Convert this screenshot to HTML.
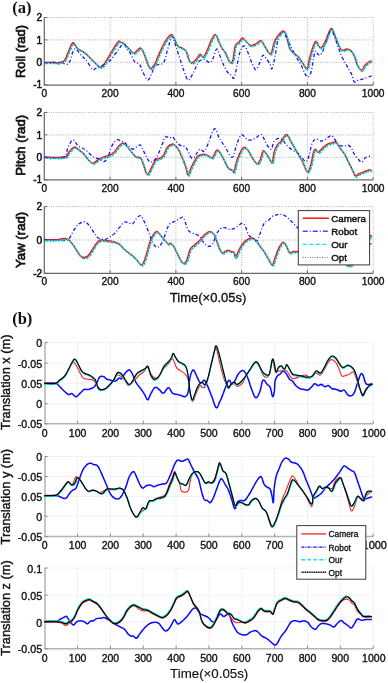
<!DOCTYPE html>
<html><head><meta charset="utf-8"><style>
html,body{margin:0;padding:0;background:#fff;}
body{width:388px;height:683px;overflow:hidden;}
svg{display:block;will-change:transform;}
</style></head><body>
<svg width="388" height="683" viewBox="0 0 388 683">
<rect width="388" height="683" fill="#fff"/>
<defs>
<clipPath id="c0"><rect x="44.3" y="14.5" width="329.9" height="70.5"/></clipPath>
<clipPath id="c1"><rect x="44.3" y="109.5" width="329.9" height="70.30000000000001"/></clipPath>
<clipPath id="c2"><rect x="44.3" y="203.6" width="329.9" height="69.70000000000002"/></clipPath>
<clipPath id="c3"><rect x="44.3" y="339.7" width="329.9" height="84.10000000000002"/></clipPath>
<clipPath id="c4"><rect x="44.3" y="453.5" width="329.9" height="83.10000000000002"/></clipPath>
<clipPath id="c5"><rect x="44.3" y="565.0" width="329.9" height="83.70000000000005"/></clipPath>
</defs>
<path d="M44.3,17.5H373.2 M44.3,39.9H373.2 M44.3,62.3H373.2 M110.1,17.5V85.0 M175.9,17.5V85.0 M241.6,17.5V85.0 M307.4,17.5V85.0 M373.2,17.5V85.0" stroke="#8a8a8a" stroke-width="0.8" stroke-dasharray="0.8,1.5" fill="none"/>
<path d="M44.3,17.5V85.0H373.2" stroke="#6a6a6a" stroke-width="1.25" fill="none"/>
<path d="M44.3,17.5h3 M44.3,39.9h3 M44.3,62.3h3 M44.3,84.7h3 M110.1,85.0v-3 M175.9,85.0v-3 M241.6,85.0v-3 M307.4,85.0v-3 M373.2,85.0v-3" stroke="#6a6a6a" stroke-width="1" fill="none"/>
<g clip-path="url(#c0)" fill="none" stroke-linejoin="round">
<path d="M44.0,62.4 C45.9,62.4 52.1,62.3 54.3,62.4 C56.5,62.5 55.3,63.0 56.4,63.0 C57.5,63.0 59.0,62.7 60.5,62.2 C62.0,61.7 63.2,62.3 64.6,60.4 C66.0,58.5 67.0,54.7 68.5,51.5 C70.0,48.3 71.4,43.4 72.9,42.8 C74.4,42.2 74.8,46.1 77.0,48.0 C79.2,49.9 82.2,50.7 85.2,53.1 C88.2,55.5 90.7,58.9 93.5,61.4 C96.3,63.9 98.5,67.2 100.7,67.2 C102.9,67.2 103.9,64.3 105.9,61.4 C107.9,58.5 109.8,54.6 112.0,51.1 C114.2,47.6 116.8,43.5 118.2,41.8 C119.6,40.1 118.9,41.4 120.0,41.8 C121.1,42.2 122.4,42.6 124.1,43.9 C125.8,45.2 127.6,47.3 129.3,49.0 C131.0,50.7 132.1,52.7 133.4,53.1 C134.7,53.5 135.2,52.0 136.5,51.1 C137.8,50.2 139.3,47.6 140.6,48.0 C141.9,48.4 142.6,50.7 143.7,53.1 C144.8,55.5 145.7,58.7 146.8,61.4 C147.9,64.1 148.6,67.5 149.9,68.2 C151.2,68.9 152.5,67.7 154.0,65.5 C155.5,63.3 156.6,59.5 158.1,56.2 C159.6,52.9 160.8,50.0 162.3,47.0 C163.8,44.0 164.7,41.9 166.4,39.7 C168.1,37.5 170.0,34.6 171.5,34.6 C173.0,34.6 173.5,37.7 174.6,39.7 C175.7,41.7 176.4,44.4 177.7,45.9 C179.0,47.4 180.4,47.1 181.9,48.0 C183.4,48.9 184.7,48.9 186.0,51.1 C187.3,53.3 188.0,58.3 189.1,60.4 C190.2,62.5 190.9,63.0 192.2,62.8 C193.5,62.6 194.9,60.8 196.3,59.3 C197.7,57.8 198.9,54.6 200.1,54.2 C201.3,53.8 201.9,58.0 203.2,57.3 C204.5,56.6 205.8,53.3 207.3,50.1 C208.8,46.9 210.0,42.5 211.5,39.7 C213.0,36.9 214.3,34.2 215.6,34.6 C216.9,35.0 217.6,39.4 218.7,41.8 C219.8,44.2 220.7,46.1 221.8,48.0 C222.9,49.9 223.4,49.5 224.9,52.1 C226.4,54.7 228.5,61.1 230.0,62.4 C231.5,63.7 232.2,62.3 233.1,59.3 C234.0,56.3 234.1,49.0 235.2,45.9 C236.3,42.8 238.0,43.2 239.3,41.8 C240.6,40.4 241.1,38.1 242.4,38.1 C243.7,38.1 245.0,40.5 246.5,41.8 C248.0,43.1 248.9,45.1 250.6,45.5 C252.3,45.9 253.9,44.7 255.8,43.9 C257.7,43.1 259.3,40.2 261.0,40.8 C262.7,41.4 263.8,45.0 265.1,47.0 C266.4,49.0 267.1,51.0 268.2,52.1 C269.3,53.2 270.2,55.0 271.3,53.1 C272.4,51.2 273.2,44.9 274.4,41.8 C275.6,38.6 276.6,37.5 278.2,35.6 C279.8,33.7 281.8,31.1 283.3,31.1 C284.8,31.1 285.3,32.6 286.4,35.6 C287.5,38.6 288.2,44.9 289.5,48.0 C290.8,51.1 292.1,51.6 293.6,53.1 C295.1,54.6 296.1,54.3 297.8,56.2 C299.5,58.1 301.2,61.3 302.9,63.5 C304.6,65.7 305.8,69.9 307.1,68.6 C308.4,67.3 308.6,61.1 310.1,56.2 C311.6,51.3 313.8,43.4 315.3,41.6 C316.8,39.8 317.3,44.9 318.4,46.0 C319.5,47.1 320.2,48.4 321.5,47.5 C322.8,46.6 323.9,44.2 325.6,40.8 C327.3,37.4 329.3,29.6 331.0,28.7 C332.7,27.8 333.4,32.5 334.8,35.6 C336.2,38.7 337.6,43.4 338.9,46.0 C340.2,48.6 340.5,49.6 342.0,50.1 C343.5,50.6 345.5,48.8 347.2,49.0 C348.9,49.2 350.0,49.8 351.3,51.1 C352.6,52.4 353.3,53.6 354.4,56.2 C355.5,58.8 356.2,63.0 357.5,65.5 C358.8,68.0 360.3,70.3 361.6,70.3 C362.9,70.3 363.4,67.0 364.7,65.5 C366.0,64.0 367.6,62.8 368.8,62.0 C370.0,61.2 371.0,61.0 371.5,60.8" stroke="#ff1010" stroke-width="1.5"/>
<path d="M44.0,62.6 C46.9,62.6 56.3,62.4 60.0,62.6 C63.7,62.8 63.2,63.5 64.6,63.8 C66.0,64.1 66.7,64.7 67.7,64.2 C68.7,63.7 68.8,63.7 70.0,61.0 C71.2,58.3 72.5,50.0 74.5,49.0 C76.5,48.0 79.2,53.3 81.1,55.2 C83.0,57.1 83.1,56.8 85.2,59.3 C87.3,61.8 90.6,67.3 92.5,69.0 C94.4,70.7 94.2,69.0 95.5,68.5 C96.8,68.0 97.8,67.4 99.7,66.5 C101.6,65.6 104.0,64.5 105.9,63.5 C107.8,62.5 108.3,62.5 110.0,60.8 C111.7,59.1 113.2,56.7 115.1,54.2 C117.0,51.7 118.7,49.1 120.3,47.0 C121.9,44.9 122.9,42.6 124.0,42.8 C125.1,43.0 125.1,46.1 126.2,48.0 C127.3,49.9 128.8,50.7 130.3,53.1 C131.8,55.5 132.7,59.3 134.4,61.4 C136.1,63.5 138.1,62.6 139.6,64.5 C141.1,66.4 141.2,68.9 142.7,71.7 C144.2,74.5 146.1,79.8 147.8,80.0 C149.5,80.2 150.7,75.3 152.0,72.7 C153.3,70.1 153.1,67.3 155.1,65.5 C157.1,63.7 161.1,65.6 163.3,62.8 C165.5,60.0 166.1,54.3 167.4,50.1 C168.7,45.9 169.6,42.1 170.5,39.7 C171.4,37.3 171.7,35.5 172.6,36.6 C173.5,37.7 174.4,42.0 175.7,45.9 C177.0,49.8 178.3,53.8 179.8,58.3 C181.3,62.8 182.4,66.8 183.9,70.7 C185.4,74.6 186.5,79.3 188.0,80.0 C189.5,80.7 190.7,77.2 192.2,74.8 C193.7,72.4 195.1,68.9 196.3,66.5 C197.5,64.1 197.7,62.7 199.1,61.4 C200.5,60.1 202.7,59.3 204.2,59.3 C205.7,59.3 206.2,60.8 207.3,61.4 C208.4,62.0 209.3,63.1 210.4,62.4 C211.5,61.7 212.4,59.7 213.5,57.3 C214.6,54.9 215.5,49.4 216.6,49.0 C217.7,48.6 218.4,52.2 219.7,55.2 C221.0,58.2 222.3,62.4 223.8,65.5 C225.3,68.7 226.7,71.0 228.0,72.7 C229.3,74.4 230.0,74.3 231.1,75.2 C232.2,76.1 233.0,79.8 234.1,77.9 C235.2,76.0 236.1,69.3 237.2,64.5 C238.3,59.7 239.0,54.4 240.3,51.1 C241.6,47.8 243.0,45.3 244.5,45.9 C246.0,46.5 247.3,51.2 248.6,54.2 C249.9,57.2 250.4,59.6 251.7,62.4 C253.0,65.2 254.3,69.6 255.8,69.6 C257.3,69.6 258.6,65.0 259.9,62.4 C261.2,59.8 261.9,55.9 263.0,55.2 C264.1,54.5 264.8,56.6 266.1,58.3 C267.4,60.0 269.1,62.6 270.2,64.5 C271.3,66.4 271.1,70.1 272.0,68.6 C272.9,67.1 274.0,61.4 275.1,56.2 C276.2,51.0 276.7,44.0 278.2,39.7 C279.7,35.4 281.8,32.9 283.3,32.5 C284.8,32.1 285.1,35.3 286.4,37.7 C287.7,40.1 288.9,42.6 290.6,45.9 C292.3,49.2 293.8,52.9 295.7,56.2 C297.6,59.5 299.2,61.3 300.9,64.5 C302.6,67.7 303.7,71.6 305.0,73.8 C306.3,76.0 307.0,77.3 308.1,76.9 C309.2,76.5 310.3,74.7 311.2,71.7 C312.1,68.7 312.5,64.1 313.2,60.4 C313.9,56.7 314.4,52.1 315.3,51.1 C316.2,50.1 317.3,54.2 318.4,54.7 C319.5,55.2 320.2,55.5 321.5,53.6 C322.8,51.7 323.9,48.1 325.6,43.9 C327.3,39.7 329.1,31.3 330.8,30.2 C332.5,29.1 333.3,34.3 334.8,37.7 C336.3,41.1 337.6,45.5 338.9,49.0 C340.2,52.5 340.8,54.5 342.1,57.3 C343.4,60.1 344.9,62.2 346.2,64.5 C347.5,66.8 348.3,68.3 349.3,70.2 C350.3,72.1 351.1,72.9 352.0,75.0 C352.9,77.1 353.2,81.1 354.4,82.0 C355.6,82.9 356.8,80.6 358.5,80.0 C360.2,79.4 361.4,79.7 363.7,78.9 C366.0,78.1 370.1,76.4 371.5,75.8" stroke="#1515ff" stroke-width="1.3" stroke-dasharray="3.5,2.1,1,2.1"/>
<path d="M44.9,63.5 C46.8,63.5 53.0,63.4 55.2,63.5 C57.4,63.6 56.2,64.1 57.3,64.1 C58.4,64.1 59.9,63.8 61.4,63.3 C62.9,62.8 64.1,63.4 65.5,61.5 C66.9,59.6 67.9,55.8 69.4,52.6 C70.9,49.4 72.3,44.5 73.8,43.9 C75.3,43.3 75.7,47.2 77.9,49.1 C80.1,51.0 83.1,51.8 86.1,54.2 C89.1,56.6 91.6,60.0 94.4,62.5 C97.2,65.0 99.4,68.3 101.6,68.3 C103.8,68.3 104.8,65.4 106.8,62.5 C108.8,59.6 110.7,55.7 112.9,52.2 C115.1,48.7 117.7,44.6 119.1,42.9 C120.5,41.2 119.8,42.5 120.9,42.9 C122.0,43.3 123.3,43.7 125.0,45.0 C126.7,46.3 128.5,48.4 130.2,50.1 C131.9,51.8 133.0,53.8 134.3,54.2 C135.6,54.6 136.1,53.1 137.4,52.2 C138.7,51.3 140.2,48.7 141.5,49.1 C142.8,49.5 143.5,51.8 144.6,54.2 C145.7,56.6 146.6,59.8 147.7,62.5 C148.8,65.2 149.5,68.6 150.8,69.3 C152.1,70.0 153.4,68.8 154.9,66.6 C156.4,64.4 157.5,60.6 159.0,57.3 C160.5,54.0 161.7,51.1 163.2,48.1 C164.7,45.1 165.6,43.0 167.3,40.8 C169.0,38.6 170.9,35.7 172.4,35.7 C173.9,35.7 174.4,38.8 175.5,40.8 C176.6,42.8 177.3,45.5 178.6,47.0 C179.9,48.5 181.3,48.2 182.8,49.1 C184.3,50.0 185.6,50.0 186.9,52.2 C188.2,54.4 188.9,59.4 190.0,61.5 C191.1,63.6 191.8,64.1 193.1,63.9 C194.4,63.7 195.8,61.9 197.2,60.4 C198.6,58.9 199.8,55.7 201.0,55.3 C202.2,54.9 202.8,59.1 204.1,58.4 C205.4,57.7 206.7,54.4 208.2,51.2 C209.7,48.0 210.9,43.6 212.4,40.8 C213.9,38.0 215.2,35.3 216.5,35.7 C217.8,36.1 218.5,40.5 219.6,42.9 C220.7,45.3 221.6,47.2 222.7,49.1 C223.8,51.0 224.3,50.6 225.8,53.2 C227.3,55.8 229.4,62.2 230.9,63.5 C232.4,64.8 233.1,63.4 234.0,60.4 C234.9,57.4 235.0,50.1 236.1,47.0 C237.2,43.9 238.9,44.3 240.2,42.9 C241.5,41.5 242.0,39.2 243.3,39.2 C244.6,39.2 245.9,41.6 247.4,42.9 C248.9,44.2 249.8,46.2 251.5,46.6 C253.2,47.0 254.8,45.8 256.7,45.0 C258.6,44.2 260.2,41.3 261.9,41.9 C263.6,42.5 264.7,46.1 266.0,48.1 C267.3,50.1 268.0,52.1 269.1,53.2 C270.2,54.3 271.1,56.1 272.2,54.2 C273.3,52.3 274.1,46.0 275.3,42.9 C276.5,39.8 277.5,38.6 279.1,36.7 C280.7,34.8 282.7,32.2 284.2,32.2 C285.7,32.2 286.2,33.7 287.3,36.7 C288.4,39.7 289.1,46.0 290.4,49.1 C291.7,52.2 293.0,52.7 294.5,54.2 C296.0,55.7 297.0,55.4 298.7,57.3 C300.4,59.2 302.1,62.4 303.8,64.6 C305.5,66.8 306.7,71.0 308.0,69.7 C309.3,68.4 309.5,62.2 311.0,57.3 C312.5,52.4 314.7,44.5 316.2,42.7 C317.7,40.9 318.2,46.0 319.3,47.1 C320.4,48.2 321.1,49.5 322.4,48.6 C323.7,47.7 324.8,45.3 326.5,41.9 C328.2,38.5 330.2,30.7 331.9,29.8 C333.6,28.9 334.3,33.6 335.7,36.7 C337.1,39.8 338.5,44.5 339.8,47.1 C341.1,49.7 341.4,50.7 342.9,51.2 C344.4,51.7 346.4,49.9 348.1,50.1 C349.8,50.3 350.9,50.9 352.2,52.2 C353.5,53.5 354.2,54.7 355.3,57.3 C356.4,59.9 357.1,64.1 358.4,66.6 C359.7,69.1 361.2,71.4 362.5,71.4 C363.8,71.4 364.3,68.1 365.6,66.6 C366.9,65.1 368.5,63.9 369.7,63.1 C370.9,62.3 371.9,62.1 372.4,61.9" stroke="#00e8e8" stroke-width="1.6" stroke-dasharray="3,1.2"/>
<path d="M44.8,63.4 C46.7,63.4 52.9,63.3 55.1,63.4 C57.3,63.5 56.1,64.0 57.2,64.0 C58.3,64.0 59.8,63.7 61.3,63.2 C62.8,62.7 64.0,63.3 65.4,61.4 C66.8,59.5 67.8,55.7 69.3,52.5 C70.8,49.3 72.2,44.4 73.7,43.8 C75.2,43.2 75.6,47.1 77.8,49.0 C80.0,50.9 83.0,51.7 86.0,54.1 C89.0,56.5 91.5,59.9 94.3,62.4 C97.1,64.9 99.3,68.2 101.5,68.2 C103.7,68.2 104.7,65.3 106.7,62.4 C108.7,59.5 110.6,55.6 112.8,52.1 C115.0,48.6 117.6,44.5 119.0,42.8 C120.4,41.1 119.7,42.4 120.8,42.8 C121.9,43.2 123.2,43.6 124.9,44.9 C126.6,46.2 128.4,48.3 130.1,50.0 C131.8,51.7 132.9,53.7 134.2,54.1 C135.5,54.5 136.0,53.0 137.3,52.1 C138.6,51.2 140.1,48.6 141.4,49.0 C142.7,49.4 143.4,51.7 144.5,54.1 C145.6,56.5 146.5,59.7 147.6,62.4 C148.7,65.1 149.4,68.5 150.7,69.2 C152.0,69.9 153.3,68.7 154.8,66.5 C156.3,64.3 157.4,60.5 158.9,57.2 C160.4,53.9 161.6,51.0 163.1,48.0 C164.6,45.0 165.5,42.9 167.2,40.7 C168.9,38.5 170.8,35.6 172.3,35.6 C173.8,35.6 174.3,38.7 175.4,40.7 C176.5,42.7 177.2,45.4 178.5,46.9 C179.8,48.4 181.2,48.1 182.7,49.0 C184.2,49.9 185.5,49.9 186.8,52.1 C188.1,54.3 188.8,59.3 189.9,61.4 C191.0,63.5 191.7,64.0 193.0,63.8 C194.3,63.6 195.7,61.8 197.1,60.3 C198.5,58.8 199.7,55.6 200.9,55.2 C202.1,54.8 202.7,59.0 204.0,58.3 C205.3,57.6 206.6,54.3 208.1,51.1 C209.6,47.9 210.8,43.5 212.3,40.7 C213.8,37.9 215.1,35.2 216.4,35.6 C217.7,36.0 218.4,40.4 219.5,42.8 C220.6,45.2 221.5,47.1 222.6,49.0 C223.7,50.9 224.2,50.5 225.7,53.1 C227.2,55.7 229.3,62.1 230.8,63.4 C232.3,64.7 233.0,63.3 233.9,60.3 C234.8,57.3 234.9,50.0 236.0,46.9 C237.1,43.8 238.8,44.2 240.1,42.8 C241.4,41.4 241.9,39.1 243.2,39.1 C244.5,39.1 245.8,41.5 247.3,42.8 C248.8,44.1 249.7,46.1 251.4,46.5 C253.1,46.9 254.7,45.7 256.6,44.9 C258.5,44.1 260.1,41.2 261.8,41.8 C263.5,42.4 264.6,46.0 265.9,48.0 C267.2,50.0 267.9,52.0 269.0,53.1 C270.1,54.2 271.0,56.0 272.1,54.1 C273.2,52.2 274.0,45.9 275.2,42.8 C276.4,39.6 277.4,38.5 279.0,36.6 C280.6,34.7 282.6,32.1 284.1,32.1 C285.6,32.1 286.1,33.6 287.2,36.6 C288.3,39.6 289.0,45.9 290.3,49.0 C291.6,52.1 292.9,52.6 294.4,54.1 C295.9,55.6 296.9,55.3 298.6,57.2 C300.3,59.1 302.0,62.3 303.7,64.5 C305.4,66.7 306.6,70.9 307.9,69.6 C309.2,68.3 309.4,62.1 310.9,57.2 C312.4,52.3 314.6,44.4 316.1,42.6 C317.6,40.8 318.1,45.9 319.2,47.0 C320.3,48.1 321.0,49.4 322.3,48.5 C323.6,47.6 324.7,45.2 326.4,41.8 C328.1,38.4 330.1,30.6 331.8,29.7 C333.5,28.8 334.2,33.5 335.6,36.6 C337.0,39.7 338.4,44.4 339.7,47.0 C341.0,49.6 341.3,50.6 342.8,51.1 C344.3,51.6 346.3,49.8 348.0,50.0 C349.7,50.2 350.8,50.8 352.1,52.1 C353.4,53.4 354.1,54.6 355.2,57.2 C356.3,59.8 357.0,64.0 358.3,66.5 C359.6,69.0 361.1,71.3 362.4,71.3 C363.7,71.3 364.2,68.0 365.5,66.5 C366.8,65.0 368.4,63.8 369.6,63.0 C370.8,62.2 371.8,62.0 372.3,61.8" stroke="#222" stroke-width="0.8" stroke-dasharray="0.7,2"/>
</g>
<text x="42.2" y="21.1" text-anchor="end" font-family='"Liberation Sans", sans-serif' font-size="10.2" fill="#111" stroke="#111" stroke-width="0.5">2</text>
<text x="42.2" y="43.5" text-anchor="end" font-family='"Liberation Sans", sans-serif' font-size="10.2" fill="#111" stroke="#111" stroke-width="0.5">1</text>
<text x="42.2" y="65.9" text-anchor="end" font-family='"Liberation Sans", sans-serif' font-size="10.2" fill="#111" stroke="#111" stroke-width="0.5">0</text>
<text x="42.2" y="88.3" text-anchor="end" font-family='"Liberation Sans", sans-serif' font-size="10.2" fill="#111" stroke="#111" stroke-width="0.5">-1</text>
<text x="44.3" y="97.0" text-anchor="middle" font-family='"Liberation Sans", sans-serif' font-size="10.2" fill="#111" stroke="#111" stroke-width="0.35">0</text>
<text x="110.1" y="97.0" text-anchor="middle" font-family='"Liberation Sans", sans-serif' font-size="10.2" fill="#111" stroke="#111" stroke-width="0.35">200</text>
<text x="175.9" y="97.0" text-anchor="middle" font-family='"Liberation Sans", sans-serif' font-size="10.2" fill="#111" stroke="#111" stroke-width="0.35">400</text>
<text x="241.6" y="97.0" text-anchor="middle" font-family='"Liberation Sans", sans-serif' font-size="10.2" fill="#111" stroke="#111" stroke-width="0.35">600</text>
<text x="307.4" y="97.0" text-anchor="middle" font-family='"Liberation Sans", sans-serif' font-size="10.2" fill="#111" stroke="#111" stroke-width="0.35">800</text>
<text x="373.2" y="97.0" text-anchor="middle" font-family='"Liberation Sans", sans-serif' font-size="10.2" fill="#111" stroke="#111" stroke-width="0.35">1000</text>
<text transform="translate(25.2,51.5) rotate(-90)" text-anchor="middle" font-family='"Liberation Sans", sans-serif' font-size="12.9" fill="#111" stroke="#111" stroke-width="0.7">Roll (rad)</text>
<path d="M44.3,112.5H373.2 M44.3,134.9H373.2 M44.3,157.3H373.2 M110.1,112.5V179.8 M175.9,112.5V179.8 M241.6,112.5V179.8 M307.4,112.5V179.8 M373.2,112.5V179.8" stroke="#8a8a8a" stroke-width="0.8" stroke-dasharray="0.8,1.5" fill="none"/>
<path d="M44.3,112.5V179.8H373.2" stroke="#6a6a6a" stroke-width="1.25" fill="none"/>
<path d="M44.3,112.5h3 M44.3,134.9h3 M44.3,157.3h3 M44.3,179.8h3 M110.1,179.8v-3 M175.9,179.8v-3 M241.6,179.8v-3 M307.4,179.8v-3 M373.2,179.8v-3" stroke="#6a6a6a" stroke-width="1" fill="none"/>
<g clip-path="url(#c1)" fill="none" stroke-linejoin="round">
<path d="M44.0,157.1 C47.7,157.1 60.2,158.0 64.6,157.1 C69.0,156.2 67.0,154.1 68.7,152.3 C70.4,150.5 72.2,147.8 73.9,147.2 C75.6,146.6 76.3,148.1 78.0,149.2 C79.7,150.3 81.5,151.7 83.2,153.4 C84.9,155.1 85.8,156.8 87.3,158.5 C88.8,160.2 90.1,161.9 91.4,162.6 C92.7,163.3 93.2,163.2 94.5,162.6 C95.8,162.0 96.9,160.5 98.6,159.5 C100.3,158.5 101.9,157.6 103.8,156.9 C105.7,156.2 107.1,156.2 109.0,155.4 C110.9,154.6 112.2,154.1 114.1,152.3 C116.0,150.5 117.5,147.1 119.3,145.5 C121.1,143.9 122.2,142.8 124.0,143.5 C125.8,144.2 127.6,147.2 129.3,149.2 C131.0,151.2 132.1,153.0 133.4,154.4 C134.7,155.8 135.2,156.5 136.5,157.1 C137.8,157.7 139.3,156.4 140.6,157.9 C141.9,159.4 142.5,162.7 143.7,165.7 C144.9,168.7 145.9,173.8 147.2,174.4 C148.5,175.0 149.5,171.3 150.9,168.8 C152.3,166.3 153.6,162.5 155.1,160.6 C156.6,158.7 157.7,159.4 159.2,158.5 C160.7,157.6 161.8,157.8 163.3,155.8 C164.8,153.8 165.7,149.3 167.4,147.2 C169.1,145.1 171.1,144.3 172.6,144.1 C174.1,143.9 174.6,145.0 175.7,146.1 C176.8,147.2 177.5,147.9 178.8,150.3 C180.1,152.7 181.6,156.3 182.9,159.5 C184.2,162.7 185.1,165.0 186.0,167.8 C186.9,170.6 187.1,175.0 188.0,175.0 C188.9,175.0 190.0,170.2 191.1,167.8 C192.2,165.4 193.1,163.6 194.2,161.6 C195.3,159.6 196.2,157.7 197.3,156.5 C198.4,155.3 198.7,155.4 200.1,155.0 C201.5,154.6 203.6,154.1 205.3,154.4 C207.0,154.7 208.1,155.9 209.4,156.5 C210.7,157.1 211.2,158.6 212.5,157.5 C213.8,156.4 215.3,151.2 216.6,150.3 C217.9,149.4 218.4,150.6 219.7,152.3 C221.0,154.0 222.3,156.7 223.8,159.5 C225.3,162.3 226.5,165.9 228.0,167.8 C229.5,169.7 231.0,169.2 232.1,169.9 C233.2,170.6 233.2,173.4 234.1,171.5 C235.0,169.6 235.9,163.3 237.2,159.5 C238.5,155.7 240.1,152.5 241.4,150.3 C242.7,148.1 243.2,147.0 244.5,147.2 C245.8,147.4 247.1,149.3 248.6,151.3 C250.1,153.3 251.2,156.3 252.7,158.5 C254.2,160.7 255.5,163.3 256.8,163.7 C258.1,164.1 258.8,162.8 259.9,160.6 C261.0,158.4 261.9,152.6 263.0,151.3 C264.1,150.0 265.0,152.1 266.1,153.4 C267.2,154.7 268.1,156.8 269.2,158.5 C270.3,160.2 271.4,163.7 272.3,162.6 C273.2,161.5 273.2,155.5 274.1,152.3 C275.0,149.2 275.9,147.1 277.2,145.1 C278.5,143.1 279.6,142.9 281.3,141.0 C283.0,139.1 284.7,134.4 286.4,134.4 C288.1,134.4 289.1,138.5 290.6,141.0 C292.1,143.5 293.2,145.6 294.7,148.2 C296.2,150.8 297.3,152.8 298.8,155.4 C300.3,158.0 301.3,159.6 302.9,162.6 C304.5,165.6 306.0,171.7 307.5,171.9 C309.0,172.1 310.1,167.0 311.1,163.7 C312.1,160.4 312.5,156.0 313.2,153.4 C313.9,150.8 314.3,149.4 315.2,149.2 C316.1,149.0 317.0,152.5 318.3,152.3 C319.6,152.1 320.7,149.7 322.4,148.2 C324.1,146.7 325.9,145.0 327.6,144.1 C329.3,143.2 330.2,143.4 331.7,143.0 C333.2,142.6 334.3,141.1 335.8,142.0 C337.3,142.9 338.5,146.1 340.0,148.2 C341.5,150.3 342.6,151.0 344.1,153.4 C345.6,155.8 346.7,158.6 348.2,161.6 C349.7,164.6 351.0,167.3 352.3,169.9 C353.6,172.5 354.3,175.3 355.4,176.0 C356.5,176.7 357.0,174.7 358.5,174.0 C360.0,173.3 361.8,172.6 363.7,171.9 C365.6,171.2 367.4,170.2 368.8,169.9 C370.2,169.6 371.0,170.2 371.5,170.3" stroke="#ff1010" stroke-width="1.5"/>
<path d="M44.0,157.1 C47.5,157.1 59.2,158.8 63.5,157.1 C67.8,155.4 66.3,150.6 68.0,147.5 C69.7,144.4 71.1,140.1 72.9,139.8 C74.7,139.5 75.8,143.8 78.0,145.6 C80.2,147.4 82.4,147.6 85.2,149.7 C88.0,151.8 90.9,155.3 93.5,157.0 C96.1,158.7 97.8,158.2 99.7,159.0 C101.6,159.8 102.3,162.1 103.8,161.7 C105.3,161.3 106.4,159.9 107.9,157.0 C109.4,154.1 110.3,148.7 112.0,145.6 C113.7,142.5 115.5,140.5 117.2,139.8 C118.9,139.1 120.1,141.1 121.3,141.5 C122.5,141.9 122.9,141.2 124.1,142.0 C125.3,142.8 126.5,144.8 128.2,146.1 C129.9,147.4 131.7,149.2 133.4,149.2 C135.1,149.2 136.2,146.8 137.5,146.1 C138.8,145.4 139.5,144.2 140.6,145.1 C141.7,146.0 142.6,149.1 143.7,151.3 C144.8,153.5 145.7,155.6 146.8,157.5 C147.9,159.4 148.6,161.4 149.9,162.0 C151.2,162.6 152.5,162.0 154.0,160.6 C155.5,159.2 156.6,157.4 158.1,154.4 C159.6,151.4 161.0,147.2 162.3,144.1 C163.6,140.9 164.1,138.0 165.4,136.9 C166.7,135.8 168.2,137.9 169.5,137.9 C170.8,137.9 171.5,136.3 172.6,136.9 C173.7,137.5 174.4,139.5 175.7,141.0 C177.0,142.5 178.3,144.2 179.8,145.1 C181.3,146.0 182.6,145.4 183.9,146.1 C185.2,146.8 185.7,147.1 187.0,149.2 C188.3,151.3 189.8,156.1 191.1,157.5 C192.4,158.9 193.1,158.0 194.2,157.1 C195.3,156.2 196.2,153.7 197.3,152.3 C198.4,150.9 198.9,149.4 200.1,149.2 C201.3,149.0 202.7,152.4 204.2,151.3 C205.7,150.2 206.9,146.5 208.4,143.0 C209.9,139.5 211.2,134.2 212.5,131.7 C213.8,129.2 214.5,128.1 215.6,129.0 C216.7,129.9 217.6,134.6 218.7,136.9 C219.8,139.2 220.5,140.0 221.8,142.0 C223.1,144.0 224.4,145.8 225.9,148.2 C227.4,150.6 228.7,153.9 230.0,155.4 C231.3,156.9 232.0,158.2 233.1,156.5 C234.2,154.8 235.1,149.4 236.2,146.1 C237.3,142.8 238.2,139.9 239.3,137.9 C240.4,135.9 241.1,134.6 242.4,134.8 C243.7,135.0 245.0,138.0 246.5,138.9 C248.0,139.8 248.9,140.2 250.6,140.0 C252.3,139.8 253.9,138.9 255.8,137.9 C257.7,136.9 259.5,134.2 261.0,134.4 C262.5,134.6 262.9,137.0 264.0,138.9 C265.1,140.8 265.8,143.2 267.1,145.1 C268.4,147.0 270.2,149.6 271.3,149.2 C272.4,148.8 272.5,144.7 273.3,143.0 C274.1,141.3 274.8,140.3 276.0,139.5 C277.2,138.7 278.9,138.2 280.2,138.5 C281.5,138.8 282.0,139.6 283.3,141.0 C284.6,142.4 285.8,144.4 287.5,146.1 C289.2,147.8 290.9,149.2 292.6,150.3 C294.3,151.4 295.2,151.2 296.7,152.3 C298.2,153.4 299.2,154.8 300.9,156.5 C302.6,158.2 304.5,161.8 306.0,161.6 C307.5,161.4 308.0,158.7 309.1,155.4 C310.2,152.1 310.9,145.9 312.2,143.0 C313.5,140.1 314.8,139.5 316.3,139.1 C317.8,138.7 319.0,140.8 320.5,141.0 C322.0,141.2 323.1,140.7 324.6,140.0 C326.1,139.3 327.4,137.7 328.7,136.9 C330.0,136.1 330.6,135.0 331.8,135.6 C333.0,136.2 334.0,138.3 335.3,140.0 C336.6,141.7 337.4,144.0 339.0,145.1 C340.6,146.2 342.5,146.1 344.2,146.1 C345.9,146.1 346.9,144.5 348.3,145.1 C349.7,145.7 350.9,147.5 352.0,149.2 C353.1,150.9 353.2,152.5 354.4,154.4 C355.6,156.3 357.1,158.1 358.5,159.5 C359.9,160.9 360.7,162.4 362.0,162.0 C363.3,161.6 364.0,158.6 365.7,157.5 C367.4,156.4 370.5,156.1 371.5,155.8" stroke="#1515ff" stroke-width="1.3" stroke-dasharray="3.5,2.1,1,2.1"/>
<path d="M44.9,158.2 C48.6,158.2 61.1,159.1 65.5,158.2 C69.9,157.3 67.9,155.2 69.6,153.4 C71.3,151.6 73.1,148.9 74.8,148.3 C76.5,147.7 77.2,149.2 78.9,150.3 C80.6,151.4 82.4,152.8 84.1,154.5 C85.8,156.2 86.7,157.9 88.2,159.6 C89.7,161.3 91.0,163.0 92.3,163.7 C93.6,164.4 94.1,164.3 95.4,163.7 C96.7,163.1 97.8,161.6 99.5,160.6 C101.2,159.6 102.8,158.7 104.7,158.0 C106.6,157.3 108.0,157.3 109.9,156.5 C111.8,155.7 113.1,155.2 115.0,153.4 C116.9,151.6 118.4,148.2 120.2,146.6 C122.0,145.0 123.1,143.9 124.9,144.6 C126.7,145.3 128.5,148.3 130.2,150.3 C131.9,152.3 133.0,154.1 134.3,155.5 C135.6,156.9 136.1,157.6 137.4,158.2 C138.7,158.8 140.2,157.5 141.5,159.0 C142.8,160.5 143.4,163.8 144.6,166.8 C145.8,169.8 146.8,174.9 148.1,175.5 C149.4,176.1 150.4,172.4 151.8,169.9 C153.2,167.4 154.5,163.6 156.0,161.7 C157.5,159.8 158.6,160.5 160.1,159.6 C161.6,158.7 162.7,158.9 164.2,156.9 C165.7,154.9 166.6,150.4 168.3,148.3 C170.0,146.2 172.0,145.4 173.5,145.2 C175.0,145.0 175.5,146.1 176.6,147.2 C177.7,148.3 178.4,149.0 179.7,151.4 C181.0,153.8 182.5,157.4 183.8,160.6 C185.1,163.8 186.0,166.1 186.9,168.9 C187.8,171.7 188.0,176.1 188.9,176.1 C189.8,176.1 190.9,171.3 192.0,168.9 C193.1,166.5 194.0,164.7 195.1,162.7 C196.2,160.7 197.1,158.8 198.2,157.6 C199.3,156.4 199.6,156.5 201.0,156.1 C202.4,155.7 204.5,155.2 206.2,155.5 C207.9,155.8 209.0,157.0 210.3,157.6 C211.6,158.2 212.1,159.7 213.4,158.6 C214.7,157.5 216.2,152.3 217.5,151.4 C218.8,150.5 219.3,151.7 220.6,153.4 C221.9,155.1 223.2,157.8 224.7,160.6 C226.2,163.4 227.4,167.0 228.9,168.9 C230.4,170.8 231.9,170.3 233.0,171.0 C234.1,171.7 234.1,174.5 235.0,172.6 C235.9,170.7 236.8,164.4 238.1,160.6 C239.4,156.8 241.0,153.6 242.3,151.4 C243.6,149.2 244.1,148.1 245.4,148.3 C246.7,148.5 248.0,150.4 249.5,152.4 C251.0,154.4 252.1,157.4 253.6,159.6 C255.1,161.8 256.4,164.4 257.7,164.8 C259.0,165.2 259.7,163.9 260.8,161.7 C261.9,159.5 262.8,153.7 263.9,152.4 C265.0,151.1 265.9,153.2 267.0,154.5 C268.1,155.8 269.0,157.9 270.1,159.6 C271.2,161.3 272.3,164.8 273.2,163.7 C274.1,162.6 274.1,156.6 275.0,153.4 C275.9,150.2 276.8,148.2 278.1,146.2 C279.4,144.2 280.5,144.0 282.2,142.1 C283.9,140.2 285.6,135.5 287.3,135.5 C289.0,135.5 290.0,139.6 291.5,142.1 C293.0,144.6 294.1,146.7 295.6,149.3 C297.1,151.9 298.2,153.9 299.7,156.5 C301.2,159.1 302.2,160.7 303.8,163.7 C305.4,166.7 306.9,172.8 308.4,173.0 C309.9,173.2 311.0,168.1 312.0,164.8 C313.0,161.5 313.4,157.1 314.1,154.5 C314.8,151.9 315.2,150.5 316.1,150.3 C317.0,150.1 317.9,153.6 319.2,153.4 C320.5,153.2 321.6,150.8 323.3,149.3 C325.0,147.8 326.8,146.1 328.5,145.2 C330.2,144.3 331.1,144.5 332.6,144.1 C334.1,143.7 335.2,142.2 336.7,143.1 C338.2,144.0 339.4,147.2 340.9,149.3 C342.4,151.4 343.5,152.1 345.0,154.5 C346.5,156.9 347.6,159.7 349.1,162.7 C350.6,165.7 351.9,168.4 353.2,171.0 C354.5,173.6 355.2,176.4 356.3,177.1 C357.4,177.8 357.9,175.8 359.4,175.1 C360.9,174.4 362.7,173.7 364.6,173.0 C366.5,172.3 368.3,171.3 369.7,171.0 C371.1,170.7 371.9,171.3 372.4,171.4" stroke="#00e8e8" stroke-width="1.6" stroke-dasharray="3,1.2"/>
<path d="M44.8,158.1 C48.5,158.1 61.0,159.0 65.4,158.1 C69.8,157.2 67.8,155.1 69.5,153.3 C71.2,151.5 73.0,148.8 74.7,148.2 C76.4,147.6 77.1,149.1 78.8,150.2 C80.5,151.3 82.3,152.7 84.0,154.4 C85.7,156.1 86.6,157.8 88.1,159.5 C89.6,161.2 90.9,162.9 92.2,163.6 C93.5,164.3 94.0,164.2 95.3,163.6 C96.6,163.0 97.7,161.5 99.4,160.5 C101.1,159.5 102.7,158.6 104.6,157.9 C106.5,157.2 107.9,157.2 109.8,156.4 C111.7,155.6 113.0,155.1 114.9,153.3 C116.8,151.5 118.3,148.1 120.1,146.5 C121.9,144.9 123.0,143.8 124.8,144.5 C126.6,145.2 128.4,148.2 130.1,150.2 C131.8,152.2 132.9,154.0 134.2,155.4 C135.5,156.8 136.0,157.5 137.3,158.1 C138.6,158.7 140.1,157.4 141.4,158.9 C142.7,160.4 143.3,163.7 144.5,166.7 C145.7,169.7 146.7,174.8 148.0,175.4 C149.3,176.0 150.3,172.3 151.7,169.8 C153.1,167.3 154.4,163.5 155.9,161.6 C157.4,159.7 158.5,160.4 160.0,159.5 C161.5,158.6 162.6,158.8 164.1,156.8 C165.6,154.8 166.5,150.3 168.2,148.2 C169.9,146.1 171.9,145.3 173.4,145.1 C174.9,144.9 175.4,146.0 176.5,147.1 C177.6,148.2 178.3,148.9 179.6,151.3 C180.9,153.7 182.4,157.3 183.7,160.5 C185.0,163.7 185.9,166.0 186.8,168.8 C187.7,171.6 187.9,176.0 188.8,176.0 C189.7,176.0 190.8,171.2 191.9,168.8 C193.0,166.4 193.9,164.6 195.0,162.6 C196.1,160.6 197.0,158.7 198.1,157.5 C199.2,156.3 199.5,156.4 200.9,156.0 C202.3,155.6 204.4,155.1 206.1,155.4 C207.8,155.7 208.9,156.9 210.2,157.5 C211.5,158.1 212.0,159.6 213.3,158.5 C214.6,157.4 216.1,152.2 217.4,151.3 C218.7,150.4 219.2,151.6 220.5,153.3 C221.8,155.0 223.1,157.7 224.6,160.5 C226.1,163.3 227.3,166.9 228.8,168.8 C230.3,170.7 231.8,170.2 232.9,170.9 C234.0,171.6 234.0,174.4 234.9,172.5 C235.8,170.6 236.7,164.3 238.0,160.5 C239.3,156.7 240.9,153.5 242.2,151.3 C243.5,149.1 244.0,148.0 245.3,148.2 C246.6,148.4 247.9,150.3 249.4,152.3 C250.9,154.3 252.0,157.3 253.5,159.5 C255.0,161.7 256.3,164.3 257.6,164.7 C258.9,165.1 259.6,163.8 260.7,161.6 C261.8,159.4 262.7,153.6 263.8,152.3 C264.9,151.0 265.8,153.1 266.9,154.4 C268.0,155.7 268.9,157.8 270.0,159.5 C271.1,161.2 272.2,164.7 273.1,163.6 C274.0,162.5 274.0,156.5 274.9,153.3 C275.8,150.2 276.7,148.1 278.0,146.1 C279.3,144.1 280.4,143.9 282.1,142.0 C283.8,140.1 285.5,135.4 287.2,135.4 C288.9,135.4 289.9,139.5 291.4,142.0 C292.9,144.5 294.0,146.6 295.5,149.2 C297.0,151.8 298.1,153.8 299.6,156.4 C301.1,159.0 302.1,160.6 303.7,163.6 C305.3,166.6 306.8,172.7 308.3,172.9 C309.8,173.1 310.9,168.0 311.9,164.7 C312.9,161.4 313.3,157.0 314.0,154.4 C314.7,151.8 315.1,150.4 316.0,150.2 C316.9,150.0 317.8,153.5 319.1,153.3 C320.4,153.1 321.5,150.7 323.2,149.2 C324.9,147.7 326.7,146.0 328.4,145.1 C330.1,144.2 331.0,144.4 332.5,144.0 C334.0,143.6 335.1,142.1 336.6,143.0 C338.1,143.9 339.3,147.1 340.8,149.2 C342.3,151.3 343.4,152.0 344.9,154.4 C346.4,156.8 347.5,159.6 349.0,162.6 C350.5,165.6 351.8,168.3 353.1,170.9 C354.4,173.5 355.1,176.3 356.2,177.0 C357.3,177.7 357.8,175.7 359.3,175.0 C360.8,174.3 362.6,173.6 364.5,172.9 C366.4,172.2 368.2,171.2 369.6,170.9 C371.0,170.6 371.8,171.2 372.3,171.3" stroke="#222" stroke-width="0.8" stroke-dasharray="0.7,2"/>
</g>
<text x="42.2" y="116.1" text-anchor="end" font-family='"Liberation Sans", sans-serif' font-size="10.2" fill="#111" stroke="#111" stroke-width="0.5">2</text>
<text x="42.2" y="138.5" text-anchor="end" font-family='"Liberation Sans", sans-serif' font-size="10.2" fill="#111" stroke="#111" stroke-width="0.5">1</text>
<text x="42.2" y="160.9" text-anchor="end" font-family='"Liberation Sans", sans-serif' font-size="10.2" fill="#111" stroke="#111" stroke-width="0.5">0</text>
<text x="42.2" y="183.4" text-anchor="end" font-family='"Liberation Sans", sans-serif' font-size="10.2" fill="#111" stroke="#111" stroke-width="0.5">-1</text>
<text x="44.3" y="191.5" text-anchor="middle" font-family='"Liberation Sans", sans-serif' font-size="10.2" fill="#111" stroke="#111" stroke-width="0.35">0</text>
<text x="110.1" y="191.5" text-anchor="middle" font-family='"Liberation Sans", sans-serif' font-size="10.2" fill="#111" stroke="#111" stroke-width="0.35">200</text>
<text x="175.9" y="191.5" text-anchor="middle" font-family='"Liberation Sans", sans-serif' font-size="10.2" fill="#111" stroke="#111" stroke-width="0.35">400</text>
<text x="241.6" y="191.5" text-anchor="middle" font-family='"Liberation Sans", sans-serif' font-size="10.2" fill="#111" stroke="#111" stroke-width="0.35">600</text>
<text x="307.4" y="191.5" text-anchor="middle" font-family='"Liberation Sans", sans-serif' font-size="10.2" fill="#111" stroke="#111" stroke-width="0.35">800</text>
<text x="373.2" y="191.5" text-anchor="middle" font-family='"Liberation Sans", sans-serif' font-size="10.2" fill="#111" stroke="#111" stroke-width="0.35">1000</text>
<text transform="translate(25.2,145.3) rotate(-90)" text-anchor="middle" font-family='"Liberation Sans", sans-serif' font-size="13.2" fill="#111" stroke="#111" stroke-width="0.7">Pitch (rad)</text>
<path d="M44.3,206.6H373.2 M44.3,240.0H373.2 M110.1,206.6V273.3 M175.9,206.6V273.3 M241.6,206.6V273.3 M307.4,206.6V273.3 M373.2,206.6V273.3" stroke="#8a8a8a" stroke-width="0.8" stroke-dasharray="0.8,1.5" fill="none"/>
<path d="M44.3,206.6V273.3H373.2" stroke="#6a6a6a" stroke-width="1.25" fill="none"/>
<path d="M44.3,206.6h3 M44.3,240.0h3 M44.3,273.3h3 M110.1,273.3v-3 M175.9,273.3v-3 M241.6,273.3v-3 M307.4,273.3v-3 M373.2,273.3v-3" stroke="#6a6a6a" stroke-width="1" fill="none"/>
<g clip-path="url(#c2)" fill="none" stroke-linejoin="round">
<path d="M44.0,239.7 C46.2,239.7 52.9,239.9 56.4,239.7 C59.9,239.5 61.6,238.6 63.6,238.5 C65.6,238.4 66.2,238.3 67.7,239.1 C69.2,239.9 70.3,241.3 71.8,243.2 C73.3,245.1 74.5,247.2 76.0,249.4 C77.5,251.6 78.6,254.1 80.1,255.6 C81.6,257.1 82.7,257.6 84.2,257.6 C85.7,257.6 86.8,257.1 88.3,255.6 C89.8,254.1 91.0,251.6 92.5,249.4 C94.0,247.2 95.1,244.9 96.6,243.2 C98.1,241.5 99.0,240.5 100.7,240.1 C102.4,239.7 104.2,240.5 105.9,240.7 C107.6,240.9 108.3,240.8 110.0,241.1 C111.7,241.4 113.4,241.6 115.1,242.2 C116.8,242.8 117.7,243.0 119.3,244.2 C120.9,245.4 122.4,247.5 124.0,249.0 C125.6,250.5 126.7,251.3 128.2,252.5 C129.7,253.7 130.9,254.3 132.4,255.6 C133.9,256.9 134.8,258.0 136.5,259.7 C138.2,261.4 140.1,264.9 141.6,264.9 C143.1,264.9 143.6,262.5 144.7,259.7 C145.8,256.9 146.7,253.1 147.8,249.4 C148.9,245.7 149.8,241.9 150.9,239.1 C152.0,236.3 152.9,235.3 154.0,233.9 C155.1,232.5 155.8,231.1 157.1,231.5 C158.4,231.9 159.7,234.3 161.2,236.0 C162.7,237.7 164.1,239.6 165.4,241.1 C166.7,242.6 167.6,243.8 168.5,244.2 C169.4,244.6 169.6,242.8 170.5,243.2 C171.4,243.6 172.5,244.6 173.6,246.3 C174.7,248.0 175.4,249.9 176.7,252.5 C178.0,255.1 179.5,258.7 180.8,260.7 C182.1,262.7 182.8,263.6 183.9,263.4 C185.0,263.2 185.9,262.2 187.0,259.7 C188.1,257.2 188.8,252.0 190.1,249.4 C191.4,246.8 192.4,247.0 194.2,245.3 C196.0,243.6 198.3,242.0 200.1,240.1 C201.9,238.2 202.5,236.5 204.2,235.0 C205.9,233.5 207.7,231.7 209.4,231.5 C211.1,231.3 212.2,232.2 213.5,233.9 C214.8,235.6 215.5,238.3 216.6,241.1 C217.7,243.9 218.6,247.3 219.7,249.4 C220.8,251.5 221.5,252.7 222.8,252.9 C224.1,253.1 225.4,250.7 226.9,250.4 C228.4,250.1 229.8,251.1 231.1,251.5 C232.4,251.9 233.3,251.4 234.1,252.5 C234.9,253.6 234.8,257.8 235.6,257.6 C236.4,257.4 237.1,253.9 238.3,251.5 C239.5,249.1 240.9,246.3 242.4,244.2 C243.9,242.1 244.8,241.2 246.5,240.1 C248.2,239.0 250.0,238.1 251.7,238.1 C253.4,238.1 254.3,238.6 255.8,240.1 C257.3,241.6 258.4,244.2 259.9,246.3 C261.4,248.4 262.5,249.3 264.0,251.5 C265.5,253.7 266.7,256.3 268.2,258.7 C269.7,261.1 271.1,265.1 272.3,264.9 C273.5,264.7 273.9,260.8 275.1,257.6 C276.3,254.4 277.7,250.1 279.2,247.3 C280.7,244.5 282.0,242.4 283.3,242.2 C284.6,242.0 285.3,244.4 286.4,246.3 C287.5,248.2 288.2,251.6 289.5,252.5 C290.8,253.4 292.1,251.7 293.6,251.5 C295.1,251.3 296.3,252.1 297.8,251.5 C299.3,250.9 300.2,250.1 302.0,248.0 C303.8,245.9 305.8,242.2 308.0,240.0 C310.2,237.8 311.8,236.0 314.0,236.0 C316.2,236.0 317.8,238.2 320.0,240.0 C322.2,241.8 323.8,243.8 326.0,246.0 C328.2,248.2 329.8,249.8 332.0,252.0 C334.2,254.2 335.8,256.0 338.0,258.0 C340.2,260.0 341.9,261.6 344.0,263.0 C346.1,264.4 347.6,266.2 349.4,266.0 C351.2,265.8 352.1,264.5 354.0,262.0 C355.9,259.5 357.8,255.6 360.0,252.0 C362.2,248.4 363.9,245.1 366.0,242.0 C368.1,238.9 370.5,236.3 371.5,235.0" stroke="#ff1010" stroke-width="1.5"/>
<path d="M44.0,239.7 C47.7,239.8 60.2,240.6 64.6,240.5 C69.0,240.4 67.2,240.6 68.7,239.1 C70.2,237.6 71.4,234.3 72.9,231.9 C74.4,229.5 75.5,227.4 77.0,225.7 C78.5,224.0 79.6,223.3 81.1,222.6 C82.6,221.9 83.7,221.4 85.2,222.0 C86.7,222.6 87.9,223.9 89.4,225.7 C90.9,227.5 92.0,229.8 93.5,231.9 C95.0,234.0 96.1,236.3 97.6,237.6 C99.1,238.9 100.2,238.8 101.7,239.1 C103.2,239.4 104.4,239.5 105.9,239.1 C107.4,238.7 108.3,238.1 110.0,237.0 C111.7,235.9 113.4,234.6 115.1,232.9 C116.8,231.2 117.7,229.6 119.3,227.7 C120.9,225.8 122.4,223.2 124.0,222.3 C125.6,221.4 126.7,222.3 128.2,222.6 C129.7,222.9 130.9,224.7 132.4,224.0 C133.9,223.3 135.0,220.0 136.5,218.5 C138.0,217.0 139.1,215.1 140.6,215.8 C142.1,216.5 143.2,219.5 144.7,222.6 C146.2,225.7 147.4,229.2 148.9,232.9 C150.4,236.6 151.5,240.6 153.0,243.2 C154.5,245.8 155.6,247.1 157.1,247.3 C158.6,247.5 159.9,246.1 161.2,244.2 C162.5,242.3 163.0,240.3 164.3,237.0 C165.6,233.7 167.0,228.4 168.5,225.7 C170.0,223.0 171.1,223.1 172.6,222.2 C174.1,221.3 175.2,221.3 176.7,220.5 C178.2,219.7 179.5,218.2 180.8,217.8 C182.1,217.4 182.6,216.3 183.9,218.5 C185.2,220.7 186.5,227.2 188.0,229.8 C189.5,232.4 190.7,232.1 192.2,232.9 C193.7,233.7 194.9,233.8 196.3,234.5 C197.7,235.2 198.7,235.4 200.1,237.0 C201.5,238.6 202.7,241.5 204.2,243.2 C205.7,244.9 206.9,246.1 208.4,246.3 C209.9,246.5 211.0,246.4 212.5,244.2 C214.0,242.0 215.1,236.7 216.6,233.9 C218.1,231.1 219.2,229.9 220.7,228.8 C222.2,227.7 223.4,227.6 224.9,227.7 C226.4,227.8 227.5,229.2 229.0,229.4 C230.5,229.6 231.6,229.3 233.1,228.8 C234.6,228.3 235.5,227.7 237.2,226.7 C238.9,225.7 240.9,223.2 242.4,223.2 C243.9,223.2 244.4,224.6 245.5,226.7 C246.6,228.8 247.3,232.9 248.6,235.0 C249.9,237.1 251.2,237.0 252.7,238.1 C254.2,239.2 255.5,241.9 256.8,241.1 C258.1,240.3 258.6,237.1 259.9,233.9 C261.2,230.8 262.5,226.0 264.0,223.6 C265.5,221.2 266.7,221.8 268.2,220.5 C269.7,219.2 270.9,217.4 272.3,216.4 C273.7,215.4 274.7,215.4 276.1,215.0 C277.5,214.6 278.7,214.2 280.2,214.3 C281.7,214.4 282.9,214.6 284.4,215.4 C285.9,216.2 287.0,217.2 288.5,218.5 C290.0,219.8 291.1,221.1 292.6,222.6 C294.1,224.1 295.0,225.0 296.7,226.7 C298.4,228.4 299.6,230.0 302.0,232.0 C304.4,234.0 306.8,236.2 310.0,238.0 C313.2,239.8 316.4,240.9 320.0,242.0 C323.6,243.1 326.4,243.5 330.0,244.0 C333.6,244.5 336.4,245.0 340.0,245.0 C343.6,245.0 346.4,244.2 350.0,244.0 C353.6,243.8 356.1,244.0 360.0,244.0 C363.9,244.0 369.4,243.9 371.5,243.9" stroke="#1515ff" stroke-width="1.3" stroke-dasharray="3.5,2.1,1,2.1"/>
<path d="M44.9,240.8 C47.1,240.8 53.8,241.0 57.3,240.8 C60.8,240.6 62.5,239.7 64.5,239.6 C66.5,239.5 67.1,239.4 68.6,240.2 C70.1,241.0 71.2,242.4 72.7,244.3 C74.2,246.2 75.4,248.3 76.9,250.5 C78.4,252.7 79.5,255.2 81.0,256.7 C82.5,258.2 83.6,258.7 85.1,258.7 C86.6,258.7 87.7,258.2 89.2,256.7 C90.7,255.2 91.9,252.7 93.4,250.5 C94.9,248.3 96.0,246.0 97.5,244.3 C99.0,242.6 99.9,241.6 101.6,241.2 C103.3,240.8 105.1,241.6 106.8,241.8 C108.5,242.0 109.2,241.9 110.9,242.2 C112.6,242.5 114.3,242.7 116.0,243.3 C117.7,243.9 118.6,244.1 120.2,245.3 C121.8,246.5 123.3,248.6 124.9,250.1 C126.5,251.6 127.6,252.4 129.1,253.6 C130.6,254.8 131.8,255.4 133.3,256.7 C134.8,258.0 135.7,259.1 137.4,260.8 C139.1,262.5 141.0,266.0 142.5,266.0 C144.0,266.0 144.5,263.6 145.6,260.8 C146.7,258.0 147.6,254.2 148.7,250.5 C149.8,246.8 150.7,243.0 151.8,240.2 C152.9,237.4 153.8,236.4 154.9,235.0 C156.0,233.6 156.7,232.2 158.0,232.6 C159.3,233.0 160.6,235.4 162.1,237.1 C163.6,238.8 165.0,240.7 166.3,242.2 C167.6,243.7 168.5,244.9 169.4,245.3 C170.3,245.7 170.5,243.9 171.4,244.3 C172.3,244.7 173.4,245.7 174.5,247.4 C175.6,249.1 176.3,251.0 177.6,253.6 C178.9,256.2 180.4,259.8 181.7,261.8 C183.0,263.8 183.7,264.7 184.8,264.5 C185.9,264.3 186.8,263.3 187.9,260.8 C189.0,258.3 189.7,253.1 191.0,250.5 C192.3,247.9 193.3,248.1 195.1,246.4 C196.9,244.7 199.2,243.1 201.0,241.2 C202.8,239.3 203.4,237.6 205.1,236.1 C206.8,234.6 208.6,232.8 210.3,232.6 C212.0,232.4 213.1,233.3 214.4,235.0 C215.7,236.7 216.4,239.4 217.5,242.2 C218.6,245.0 219.5,248.4 220.6,250.5 C221.7,252.6 222.4,253.8 223.7,254.0 C225.0,254.2 226.3,251.8 227.8,251.5 C229.3,251.2 230.7,252.2 232.0,252.6 C233.3,253.0 234.2,252.5 235.0,253.6 C235.8,254.7 235.7,258.9 236.5,258.7 C237.3,258.5 238.0,255.0 239.2,252.6 C240.4,250.2 241.8,247.4 243.3,245.3 C244.8,243.2 245.7,242.3 247.4,241.2 C249.1,240.1 250.9,239.2 252.6,239.2 C254.3,239.2 255.2,239.7 256.7,241.2 C258.2,242.7 259.3,245.3 260.8,247.4 C262.3,249.5 263.4,250.4 264.9,252.6 C266.4,254.8 267.6,257.4 269.1,259.8 C270.6,262.2 272.0,266.2 273.2,266.0 C274.4,265.8 274.8,261.9 276.0,258.7 C277.2,255.5 278.6,251.2 280.1,248.4 C281.6,245.6 282.9,243.5 284.2,243.3 C285.5,243.1 286.2,245.5 287.3,247.4 C288.4,249.3 289.1,252.7 290.4,253.6 C291.7,254.5 293.0,252.8 294.5,252.6 C296.0,252.4 297.2,253.2 298.7,252.6 C300.2,252.0 301.1,251.2 302.9,249.1 C304.7,247.0 306.7,243.3 308.9,241.1 C311.1,238.9 312.7,237.1 314.9,237.1 C317.1,237.1 318.7,239.3 320.9,241.1 C323.1,242.9 324.7,244.9 326.9,247.1 C329.1,249.3 330.7,250.9 332.9,253.1 C335.1,255.3 336.7,257.1 338.9,259.1 C341.1,261.1 342.8,262.7 344.9,264.1 C347.0,265.5 348.5,267.3 350.3,267.1 C352.1,266.9 353.0,265.6 354.9,263.1 C356.8,260.6 358.7,256.7 360.9,253.1 C363.1,249.5 364.8,246.2 366.9,243.1 C369.0,240.0 371.4,237.4 372.4,236.1" stroke="#00e8e8" stroke-width="1.6" stroke-dasharray="3,1.2"/>
<path d="M44.8,240.7 C47.0,240.7 53.7,240.9 57.2,240.7 C60.7,240.5 62.4,239.6 64.4,239.5 C66.4,239.4 67.0,239.3 68.5,240.1 C70.0,240.9 71.1,242.3 72.6,244.2 C74.1,246.1 75.3,248.2 76.8,250.4 C78.3,252.6 79.4,255.1 80.9,256.6 C82.4,258.1 83.5,258.6 85.0,258.6 C86.5,258.6 87.6,258.1 89.1,256.6 C90.6,255.1 91.8,252.6 93.3,250.4 C94.8,248.2 95.9,245.9 97.4,244.2 C98.9,242.5 99.8,241.5 101.5,241.1 C103.2,240.7 105.0,241.5 106.7,241.7 C108.4,241.9 109.1,241.8 110.8,242.1 C112.5,242.4 114.2,242.6 115.9,243.2 C117.6,243.8 118.5,244.0 120.1,245.2 C121.7,246.4 123.2,248.5 124.8,250.0 C126.4,251.5 127.5,252.3 129.0,253.5 C130.5,254.7 131.7,255.3 133.2,256.6 C134.7,257.9 135.6,259.0 137.3,260.7 C139.0,262.4 140.9,265.9 142.4,265.9 C143.9,265.9 144.4,263.5 145.5,260.7 C146.6,257.9 147.5,254.1 148.6,250.4 C149.7,246.7 150.6,242.9 151.7,240.1 C152.8,237.3 153.7,236.3 154.8,234.9 C155.9,233.5 156.6,232.1 157.9,232.5 C159.2,232.9 160.5,235.3 162.0,237.0 C163.5,238.7 164.9,240.6 166.2,242.1 C167.5,243.6 168.4,244.8 169.3,245.2 C170.2,245.6 170.4,243.8 171.3,244.2 C172.2,244.6 173.3,245.6 174.4,247.3 C175.5,249.0 176.2,250.9 177.5,253.5 C178.8,256.1 180.3,259.7 181.6,261.7 C182.9,263.7 183.6,264.6 184.7,264.4 C185.8,264.2 186.7,263.2 187.8,260.7 C188.9,258.2 189.6,253.0 190.9,250.4 C192.2,247.8 193.2,248.0 195.0,246.3 C196.8,244.6 199.1,243.0 200.9,241.1 C202.7,239.2 203.3,237.5 205.0,236.0 C206.7,234.5 208.5,232.7 210.2,232.5 C211.9,232.3 213.0,233.2 214.3,234.9 C215.6,236.6 216.3,239.3 217.4,242.1 C218.5,244.9 219.4,248.3 220.5,250.4 C221.6,252.5 222.3,253.7 223.6,253.9 C224.9,254.1 226.2,251.7 227.7,251.4 C229.2,251.1 230.6,252.1 231.9,252.5 C233.2,252.9 234.1,252.4 234.9,253.5 C235.7,254.6 235.6,258.8 236.4,258.6 C237.2,258.4 237.9,254.9 239.1,252.5 C240.3,250.1 241.7,247.3 243.2,245.2 C244.7,243.1 245.6,242.2 247.3,241.1 C249.0,240.0 250.8,239.1 252.5,239.1 C254.2,239.1 255.1,239.6 256.6,241.1 C258.1,242.6 259.2,245.2 260.7,247.3 C262.2,249.4 263.3,250.3 264.8,252.5 C266.3,254.7 267.5,257.3 269.0,259.7 C270.5,262.1 271.9,266.1 273.1,265.9 C274.3,265.7 274.7,261.8 275.9,258.6 C277.1,255.4 278.5,251.1 280.0,248.3 C281.5,245.5 282.8,243.4 284.1,243.2 C285.4,243.0 286.1,245.4 287.2,247.3 C288.3,249.2 289.0,252.6 290.3,253.5 C291.6,254.4 292.9,252.7 294.4,252.5 C295.9,252.3 297.1,253.1 298.6,252.5 C300.1,251.9 301.0,251.1 302.8,249.0 C304.6,246.9 306.6,243.2 308.8,241.0 C311.0,238.8 312.6,237.0 314.8,237.0 C317.0,237.0 318.6,239.2 320.8,241.0 C323.0,242.8 324.6,244.8 326.8,247.0 C329.0,249.2 330.6,250.8 332.8,253.0 C335.0,255.2 336.6,257.0 338.8,259.0 C341.0,261.0 342.7,262.6 344.8,264.0 C346.9,265.4 348.4,267.2 350.2,267.0 C352.0,266.8 352.9,265.5 354.8,263.0 C356.7,260.5 358.6,256.6 360.8,253.0 C363.0,249.4 364.7,246.1 366.8,243.0 C368.9,239.9 371.3,237.3 372.3,236.0" stroke="#222" stroke-width="0.8" stroke-dasharray="0.7,2"/>
</g>
<text x="42.2" y="210.2" text-anchor="end" font-family='"Liberation Sans", sans-serif' font-size="10.2" fill="#111" stroke="#111" stroke-width="0.5">2</text>
<text x="42.2" y="243.6" text-anchor="end" font-family='"Liberation Sans", sans-serif' font-size="10.2" fill="#111" stroke="#111" stroke-width="0.5">0</text>
<text x="42.2" y="276.9" text-anchor="end" font-family='"Liberation Sans", sans-serif' font-size="10.2" fill="#111" stroke="#111" stroke-width="0.5">-2</text>
<text x="44.3" y="285.2" text-anchor="middle" font-family='"Liberation Sans", sans-serif' font-size="10.2" fill="#111" stroke="#111" stroke-width="0.35">0</text>
<text x="110.1" y="285.2" text-anchor="middle" font-family='"Liberation Sans", sans-serif' font-size="10.2" fill="#111" stroke="#111" stroke-width="0.35">200</text>
<text x="175.9" y="285.2" text-anchor="middle" font-family='"Liberation Sans", sans-serif' font-size="10.2" fill="#111" stroke="#111" stroke-width="0.35">400</text>
<text x="241.6" y="285.2" text-anchor="middle" font-family='"Liberation Sans", sans-serif' font-size="10.2" fill="#111" stroke="#111" stroke-width="0.35">600</text>
<text x="307.4" y="285.2" text-anchor="middle" font-family='"Liberation Sans", sans-serif' font-size="10.2" fill="#111" stroke="#111" stroke-width="0.35">800</text>
<text x="373.2" y="285.2" text-anchor="middle" font-family='"Liberation Sans", sans-serif' font-size="10.2" fill="#111" stroke="#111" stroke-width="0.35">1000</text>
<text transform="translate(25.2,239.9) rotate(-90)" text-anchor="middle" font-family='"Liberation Sans", sans-serif' font-size="13.2" fill="#111" stroke="#111" stroke-width="0.7">Yaw (rad)</text>
<path d="M44.7,342.7H373.2 M44.7,363.2H373.2 M44.7,383.6H373.2 M44.7,403.7H373.2 M77.6,342.7V423.8 M110.4,342.7V423.8 M143.2,342.7V423.8 M176.1,342.7V423.8 M208.9,342.7V423.8 M241.8,342.7V423.8 M274.6,342.7V423.8 M307.5,342.7V423.8 M340.3,342.7V423.8 M373.2,342.7V423.8" stroke="#dedede" stroke-width="0.8" stroke-dasharray="1,1" fill="none"/>
<path d="M45.0,342.7V423.8H373.2" stroke="#b4b4b4" stroke-width="1.5" fill="none"/>
<path d="M44.7,342.7h3 M44.7,363.2h3 M44.7,383.6h3 M44.7,403.7h3 M44.7,423.8h3 M77.6,423.8v-3 M110.4,423.8v-3 M143.2,423.8v-3 M176.1,423.8v-3 M208.9,423.8v-3 M241.8,423.8v-3 M274.6,423.8v-3 M307.5,423.8v-3 M340.3,423.8v-3 M373.2,423.8v-3" stroke="#8a8a8a" stroke-width="1" fill="none"/>
<g clip-path="url(#c3)" fill="none" stroke-linejoin="round" stroke-linecap="round">
<path d="M44.0,383.3 C46.0,383.3 52.5,382.7 55.3,383.3 C58.1,383.9 57.8,384.9 59.5,386.4 C61.2,387.9 62.9,390.0 64.6,391.5 C66.3,393.0 67.4,394.2 68.7,394.6 C70.0,395.0 70.5,393.2 71.8,393.6 C73.1,394.0 74.5,396.8 76.0,396.7 C77.5,396.6 78.6,394.5 80.1,393.2 C81.6,391.9 82.7,390.2 84.2,389.5 C85.7,388.8 86.6,389.9 88.3,389.5 C90.0,389.1 92.0,388.5 93.5,387.4 C95.0,386.3 95.5,385.2 96.6,383.3 C97.7,381.4 98.4,378.3 99.7,377.1 C101.0,375.9 102.5,376.3 103.8,376.7 C105.1,377.1 105.6,378.6 106.9,379.2 C108.2,379.8 109.5,379.8 111.0,380.2 C112.5,380.6 113.6,381.6 115.1,381.2 C116.6,380.8 118.2,378.5 119.3,378.1 C120.4,377.7 120.3,379.4 121.0,379.0 C121.7,378.6 122.2,377.4 123.1,376.1 C124.0,374.8 125.1,373.1 126.2,372.0 C127.3,370.9 128.2,369.5 129.3,369.9 C130.4,370.3 131.1,371.6 132.4,374.0 C133.7,376.4 135.0,380.7 136.5,383.3 C138.0,385.9 139.1,386.5 140.6,388.5 C142.1,390.5 143.4,392.6 144.7,394.6 C146.0,396.6 146.7,400.0 147.8,399.8 C148.9,399.6 149.6,395.8 150.9,393.6 C152.2,391.4 153.6,388.1 155.1,387.4 C156.6,386.7 157.7,388.5 159.2,389.5 C160.7,390.5 161.6,393.5 163.3,393.2 C165.0,392.9 166.8,387.8 168.5,387.8 C170.2,387.8 170.9,392.0 172.6,393.2 C174.3,394.4 176.0,394.2 177.7,394.6 C179.4,395.1 180.6,395.3 181.9,395.7 C183.2,396.1 183.8,397.3 184.9,396.7 C186.0,396.1 187.1,396.1 188.0,392.6 C188.9,389.1 189.2,381.2 190.1,377.1 C191.0,373.0 192.1,370.3 193.2,369.9 C194.3,369.5 195.3,373.1 196.3,375.1 C197.3,377.1 198.1,379.5 199.0,381.0 C199.9,382.5 200.3,383.4 201.2,383.3 C202.1,383.2 203.1,379.8 204.2,380.2 C205.3,380.6 206.0,382.6 207.3,385.4 C208.6,388.2 209.9,391.7 211.5,395.7 C213.1,399.7 214.7,406.5 216.2,407.6 C217.7,408.7 218.5,404.2 219.7,401.9 C220.9,399.6 221.7,397.4 222.8,394.6 C223.9,391.8 224.8,389.0 225.9,386.4 C227.0,383.8 227.9,380.6 229.0,380.2 C230.1,379.8 231.0,384.3 232.1,384.3 C233.2,384.3 234.1,382.1 235.2,380.2 C236.3,378.3 237.0,375.7 238.3,374.0 C239.6,372.3 241.1,370.7 242.4,370.5 C243.7,370.3 244.4,371.3 245.5,373.0 C246.6,374.7 247.5,377.2 248.6,380.2 C249.7,383.2 250.4,386.4 251.7,389.5 C253.0,392.6 254.3,397.3 255.8,397.7 C257.3,398.1 258.6,394.6 259.9,391.5 C261.2,388.4 261.7,381.5 263.0,380.2 C264.3,378.9 265.8,383.0 267.1,384.3 C268.4,385.6 269.2,385.2 270.2,387.4 C271.2,389.6 271.9,396.1 272.7,396.7 C273.5,397.3 274.0,393.3 274.4,390.5 C274.8,387.7 274.6,383.8 275.1,381.2 C275.6,378.6 276.3,377.4 277.2,376.1 C278.1,374.8 279.1,374.9 280.2,374.0 C281.3,373.1 282.2,370.9 283.3,370.9 C284.4,370.9 285.3,372.5 286.4,374.0 C287.5,375.5 288.4,377.9 289.5,379.2 C290.6,380.5 291.5,380.1 292.6,381.2 C293.7,382.3 294.4,384.1 295.7,385.4 C297.0,386.7 298.3,387.8 299.8,388.5 C301.3,389.2 302.5,389.2 304.0,389.5 C305.5,389.8 306.8,390.4 308.1,390.0 C309.4,389.6 310.1,388.3 311.3,387.2 C312.5,386.1 313.5,384.1 314.7,383.8 C315.9,383.5 316.9,385.5 318.1,385.6 C319.3,385.7 320.3,384.2 321.5,384.4 C322.7,384.6 323.7,386.5 324.9,386.7 C326.1,386.9 327.2,385.3 328.4,385.6 C329.6,385.9 330.4,387.8 331.8,388.5 C333.2,389.2 334.7,388.9 336.3,389.4 C337.9,389.9 339.4,391.1 340.8,391.2 C342.2,391.3 343.0,389.5 344.2,390.1 C345.4,390.7 346.4,393.6 347.6,394.6 C348.8,395.6 349.8,396.2 351.0,395.8 C352.2,395.4 353.2,394.8 354.4,392.4 C355.6,390.0 356.6,385.5 357.8,382.2 C359.0,378.9 359.8,375.4 360.8,374.2 C361.8,373.0 362.2,373.8 363.1,375.4 C364.0,377.0 364.7,381.7 365.8,383.3 C366.9,384.9 368.1,384.4 369.2,384.4 C370.3,384.4 371.6,383.5 372.1,383.3" stroke="#0a0aff" stroke-width="1.55" stroke-dasharray="4,0.9,1,0.9"/>
<path d="M44.0,383.3 C46.0,383.3 52.5,383.9 55.3,383.3 C58.1,382.7 57.8,381.5 59.5,380.2 C61.2,378.9 62.9,378.1 64.6,376.1 C66.3,374.1 67.5,371.0 68.7,368.9 C69.9,366.8 70.6,365.7 71.5,364.5 C72.4,363.3 72.9,361.9 73.9,362.3 C74.9,362.7 75.9,364.9 77.0,366.8 C78.1,368.7 79.0,371.0 80.1,373.0 C81.2,375.0 81.7,377.0 83.2,378.1 C84.7,379.2 86.4,378.8 88.3,379.2 C90.2,379.6 91.8,378.9 93.5,380.2 C95.2,381.5 96.3,384.7 97.6,386.4 C98.9,388.1 99.4,388.9 100.7,389.5 C102.0,390.1 103.7,389.9 104.8,389.5 C105.9,389.1 105.8,388.5 106.9,387.4 C108.0,386.3 109.7,384.8 111.0,383.3 C112.3,381.8 113.0,380.7 114.1,379.2 C115.2,377.7 116.1,375.7 117.2,375.1 C118.3,374.5 119.1,375.4 120.3,376.1 C121.5,376.8 122.7,377.5 124.1,379.2 C125.5,380.9 126.7,384.8 128.2,385.4 C129.7,386.0 130.9,383.6 132.4,382.3 C133.9,381.0 135.0,379.6 136.5,378.1 C138.0,376.6 139.1,375.3 140.6,374.0 C142.1,372.7 143.4,372.4 144.7,370.9 C146.0,369.4 146.7,365.2 147.8,365.8 C148.9,366.4 149.6,371.8 150.9,374.0 C152.2,376.2 153.6,377.7 155.1,378.1 C156.6,378.5 157.7,377.8 159.2,376.1 C160.7,374.4 161.6,371.1 163.3,368.9 C165.0,366.7 166.9,365.6 168.5,363.7 C170.1,361.8 170.9,358.8 172.0,358.6 C173.1,358.4 173.8,361.0 174.6,362.7 C175.4,364.4 175.6,366.3 176.7,367.8 C177.8,369.3 179.3,369.8 180.8,370.9 C182.3,372.0 183.7,372.5 185.0,374.0 C186.3,375.5 187.1,375.7 188.0,379.2 C188.9,382.7 189.3,389.6 190.1,393.6 C190.9,397.6 191.7,401.0 192.6,401.4 C193.5,401.8 194.3,397.9 195.3,395.7 C196.3,393.5 197.1,390.8 198.0,389.0 C198.9,387.2 199.7,385.8 200.5,385.5 C201.3,385.2 201.3,387.2 202.2,387.4 C203.1,387.6 204.2,388.3 205.3,386.4 C206.4,384.5 207.3,381.0 208.4,377.0 C209.5,373.0 210.4,368.6 211.5,364.0 C212.6,359.4 213.8,354.2 214.6,351.3 C215.4,348.4 215.1,345.0 216.2,347.8 C217.3,350.6 219.1,360.8 220.7,366.8 C222.3,372.8 223.4,377.7 224.9,381.2 C226.4,384.7 227.5,386.2 229.0,386.4 C230.5,386.6 231.6,382.3 233.1,382.3 C234.6,382.3 235.5,386.2 237.2,386.4 C238.9,386.6 240.9,385.0 242.4,383.3 C243.9,381.6 244.2,379.3 245.5,377.0 C246.8,374.7 248.1,372.8 249.6,370.5 C251.1,368.2 252.5,365.9 253.7,364.5 C254.9,363.1 255.3,362.3 256.2,362.5 C257.1,362.7 257.9,363.6 258.9,365.5 C259.9,367.4 260.9,370.9 262.0,373.0 C263.1,375.1 263.8,376.7 265.1,377.1 C266.4,377.5 267.9,378.0 269.2,375.1 C270.5,372.2 271.4,361.8 272.5,361.0 C273.6,360.2 274.1,369.1 275.1,370.9 C276.1,372.7 277.1,370.9 278.2,370.9 C279.3,370.9 280.2,371.1 281.3,370.9 C282.4,370.7 283.3,369.7 284.4,369.9 C285.5,370.1 286.2,370.5 287.5,372.0 C288.8,373.5 290.1,377.0 291.6,378.1 C293.1,379.2 294.0,378.5 295.7,378.1 C297.4,377.7 299.0,376.6 300.9,376.1 C302.8,375.6 304.3,374.7 306.0,375.1 C307.7,375.5 308.4,378.5 310.1,378.1 C311.8,377.7 313.4,373.5 315.3,373.0 C317.2,372.5 318.8,375.8 320.5,375.1 C322.2,374.4 323.1,371.3 324.6,368.9 C326.1,366.5 327.4,363.3 328.7,361.6 C330.0,359.9 330.5,359.4 331.8,359.6 C333.1,359.8 334.6,361.0 335.9,362.7 C337.2,364.4 337.9,366.5 339.0,368.9 C340.1,371.3 340.8,375.0 342.1,376.1 C343.4,377.2 345.0,375.4 346.2,375.1 C347.4,374.8 347.7,375.1 349.0,374.5 C350.3,373.9 351.9,371.0 353.3,372.0 C354.7,373.0 355.5,376.6 356.7,379.9 C357.9,383.2 358.9,387.5 360.1,390.1 C361.3,392.7 362.1,394.8 363.1,394.6 C364.1,394.4 364.2,390.8 365.8,389.0 C367.4,387.2 371.0,385.2 372.1,384.4" stroke="#ff2020" stroke-width="1.1"/>
<path d="M44.0,384.2 C46.0,384.2 52.5,384.8 55.3,384.2 C58.1,383.6 57.8,382.4 59.5,381.1 C61.2,379.8 62.9,379.0 64.6,377.0 C66.3,375.0 67.4,372.2 68.7,369.8 C70.0,367.4 70.7,365.4 71.8,363.6 C72.9,361.8 73.8,359.7 74.9,359.9 C76.0,360.1 76.9,362.6 78.0,364.6 C79.1,366.6 80.0,369.1 81.1,370.8 C82.2,372.5 82.9,373.1 84.2,373.9 C85.5,374.7 86.8,374.8 88.3,375.5 C89.8,376.2 91.2,377.0 92.5,378.0 C93.8,379.0 94.4,379.0 95.5,381.1 C96.6,383.2 97.3,387.7 98.6,389.4 C99.9,391.1 101.3,390.6 102.8,390.4 C104.3,390.2 105.4,389.4 106.9,388.3 C108.4,387.2 109.7,385.7 111.0,384.2 C112.3,382.7 113.0,382.0 114.1,380.1 C115.2,378.2 116.1,375.0 117.2,373.9 C118.3,372.8 119.2,373.3 120.3,373.9 C121.4,374.5 122.0,375.5 123.1,377.0 C124.2,378.5 125.1,380.6 126.2,382.1 C127.3,383.6 128.2,385.2 129.3,385.2 C130.4,385.2 131.1,384.0 132.4,382.1 C133.7,380.2 135.0,376.8 136.5,374.9 C138.0,373.0 139.1,372.7 140.6,371.8 C142.1,370.9 143.4,370.5 144.7,369.8 C146.0,369.1 146.7,366.6 147.8,367.7 C148.9,368.8 149.8,373.8 150.9,376.0 C152.0,378.2 152.9,379.6 154.0,380.1 C155.1,380.6 156.0,379.9 157.1,379.0 C158.2,378.1 158.9,377.1 160.2,374.9 C161.5,372.7 162.8,368.9 164.3,366.7 C165.8,364.5 167.2,364.0 168.5,362.5 C169.8,361.0 170.7,359.9 171.5,358.4 C172.3,356.9 172.4,354.3 173.2,354.3 C174.0,354.3 174.7,356.9 175.7,358.4 C176.7,359.9 177.5,361.4 178.8,362.5 C180.1,363.6 181.6,363.7 182.9,364.6 C184.2,365.5 185.1,365.6 186.0,367.7 C186.9,369.8 187.3,371.6 188.0,376.0 C188.7,380.4 189.3,388.0 190.1,392.4 C190.9,396.8 191.4,400.1 192.2,400.7 C193.0,401.3 193.5,398.2 194.5,395.9 C195.5,393.6 196.4,390.1 197.5,387.9 C198.6,385.7 199.6,384.7 200.5,383.9 C201.4,383.1 201.6,383.2 202.5,383.4 C203.4,383.6 204.2,386.4 205.3,385.2 C206.4,384.0 207.3,380.9 208.4,377.0 C209.5,373.1 210.4,368.2 211.5,363.6 C212.6,359.0 213.8,354.2 214.6,351.2 C215.4,348.2 215.5,346.3 216.2,346.7 C216.9,347.1 217.7,349.9 218.7,353.3 C219.7,356.7 220.7,361.2 221.8,365.6 C222.9,370.0 223.8,373.9 224.9,378.0 C226.0,382.1 226.9,387.0 228.0,388.3 C229.1,389.6 230.0,386.1 231.1,385.2 C232.2,384.3 233.0,383.2 234.1,383.2 C235.2,383.2 235.9,385.4 237.2,385.2 C238.5,385.0 239.9,383.6 241.4,382.1 C242.9,380.6 244.0,379.0 245.5,377.0 C247.0,375.0 248.1,373.0 249.6,370.8 C251.1,368.6 252.5,366.1 253.7,364.6 C254.9,363.1 255.3,362.3 256.2,362.5 C257.1,362.7 257.9,363.9 258.9,365.6 C259.9,367.3 260.9,370.1 262.0,371.8 C263.1,373.5 263.8,374.3 265.1,374.9 C266.4,375.5 267.9,377.5 269.2,374.9 C270.5,372.3 271.4,362.5 272.3,360.5 C273.2,358.5 273.4,361.4 274.1,363.6 C274.8,365.8 275.4,372.0 276.1,372.9 C276.8,373.8 277.3,369.8 278.2,368.7 C279.1,367.6 280.2,366.5 281.3,366.7 C282.4,366.9 283.4,370.0 284.4,369.8 C285.4,369.6 285.9,365.6 286.8,365.6 C287.7,365.6 288.5,368.1 289.5,369.8 C290.5,371.5 291.3,373.8 292.6,374.9 C293.9,376.0 295.0,375.6 296.7,376.0 C298.4,376.4 300.0,376.6 301.9,377.0 C303.8,377.4 305.2,378.0 307.1,378.0 C309.0,378.0 310.5,378.1 312.2,377.0 C313.9,375.9 314.8,372.4 316.3,371.8 C317.8,371.2 319.0,374.6 320.5,373.9 C322.0,373.2 323.3,369.9 324.6,367.7 C325.9,365.5 326.4,363.4 327.7,361.5 C329.0,359.6 330.3,357.4 331.8,357.0 C333.3,356.6 334.5,357.6 335.9,359.0 C337.3,360.4 338.4,363.2 339.7,364.9 C341.0,366.6 341.7,368.1 343.1,368.3 C344.5,368.5 346.0,366.1 347.6,366.1 C349.2,366.1 350.8,366.9 352.2,368.3 C353.6,369.7 354.5,371.1 355.6,374.0 C356.7,376.9 357.5,380.7 358.5,384.2 C359.5,387.7 360.4,391.1 361.2,393.3 C362.0,395.5 362.3,396.6 363.1,396.2 C363.9,395.8 364.7,392.7 365.8,391.0 C366.9,389.3 368.1,387.5 369.2,386.5 C370.3,385.5 371.6,385.5 372.1,385.3" stroke="#00e0e0" stroke-width="1.3" stroke-dasharray="3,1"/>
<path d="M44.0,383.3 C46.0,383.3 52.5,383.9 55.3,383.3 C58.1,382.7 57.8,381.5 59.5,380.2 C61.2,378.9 62.9,378.1 64.6,376.1 C66.3,374.1 67.4,371.3 68.7,368.9 C70.0,366.5 70.7,364.5 71.8,362.7 C72.9,360.9 73.8,358.8 74.9,359.0 C76.0,359.2 76.9,361.7 78.0,363.7 C79.1,365.7 80.0,368.2 81.1,369.9 C82.2,371.6 82.9,372.2 84.2,373.0 C85.5,373.8 86.8,373.9 88.3,374.6 C89.8,375.3 91.2,376.1 92.5,377.1 C93.8,378.1 94.4,378.1 95.5,380.2 C96.6,382.3 97.3,386.8 98.6,388.5 C99.9,390.2 101.3,389.7 102.8,389.5 C104.3,389.3 105.4,388.5 106.9,387.4 C108.4,386.3 109.7,384.8 111.0,383.3 C112.3,381.8 113.0,381.1 114.1,379.2 C115.2,377.3 116.1,374.1 117.2,373.0 C118.3,371.9 119.2,372.4 120.3,373.0 C121.4,373.6 122.0,374.6 123.1,376.1 C124.2,377.6 125.1,379.7 126.2,381.2 C127.3,382.7 128.2,384.3 129.3,384.3 C130.4,384.3 131.1,383.1 132.4,381.2 C133.7,379.3 135.0,375.9 136.5,374.0 C138.0,372.1 139.1,371.8 140.6,370.9 C142.1,370.0 143.4,369.6 144.7,368.9 C146.0,368.2 146.7,365.7 147.8,366.8 C148.9,367.9 149.8,372.9 150.9,375.1 C152.0,377.3 152.9,378.7 154.0,379.2 C155.1,379.7 156.0,379.0 157.1,378.1 C158.2,377.2 158.9,376.2 160.2,374.0 C161.5,371.8 162.8,368.0 164.3,365.8 C165.8,363.6 167.2,363.1 168.5,361.6 C169.8,360.1 170.7,359.0 171.5,357.5 C172.3,356.0 172.4,353.4 173.2,353.4 C174.0,353.4 174.7,356.0 175.7,357.5 C176.7,359.0 177.5,360.5 178.8,361.6 C180.1,362.7 181.6,362.8 182.9,363.7 C184.2,364.6 185.1,364.7 186.0,366.8 C186.9,368.9 187.3,370.7 188.0,375.1 C188.7,379.5 189.3,387.1 190.1,391.5 C190.9,395.9 191.4,399.2 192.2,399.8 C193.0,400.4 193.5,397.3 194.5,395.0 C195.5,392.7 196.4,389.2 197.5,387.0 C198.6,384.8 199.6,383.8 200.5,383.0 C201.4,382.2 201.6,382.3 202.5,382.5 C203.4,382.7 204.2,385.5 205.3,384.3 C206.4,383.1 207.3,380.0 208.4,376.1 C209.5,372.2 210.4,367.3 211.5,362.7 C212.6,358.1 213.8,353.3 214.6,350.3 C215.4,347.3 215.5,345.4 216.2,345.8 C216.9,346.2 217.7,349.0 218.7,352.4 C219.7,355.8 220.7,360.3 221.8,364.7 C222.9,369.1 223.8,373.0 224.9,377.1 C226.0,381.2 226.9,386.1 228.0,387.4 C229.1,388.7 230.0,385.2 231.1,384.3 C232.2,383.4 233.0,382.3 234.1,382.3 C235.2,382.3 235.9,384.5 237.2,384.3 C238.5,384.1 239.9,382.7 241.4,381.2 C242.9,379.7 244.0,378.1 245.5,376.1 C247.0,374.1 248.1,372.1 249.6,369.9 C251.1,367.7 252.5,365.2 253.7,363.7 C254.9,362.2 255.3,361.4 256.2,361.6 C257.1,361.8 257.9,363.0 258.9,364.7 C259.9,366.4 260.9,369.2 262.0,370.9 C263.1,372.6 263.8,373.4 265.1,374.0 C266.4,374.6 267.9,376.6 269.2,374.0 C270.5,371.4 271.4,361.6 272.3,359.6 C273.2,357.6 273.4,360.5 274.1,362.7 C274.8,364.9 275.4,371.1 276.1,372.0 C276.8,372.9 277.3,368.9 278.2,367.8 C279.1,366.7 280.2,365.6 281.3,365.8 C282.4,366.0 283.4,369.1 284.4,368.9 C285.4,368.7 285.9,364.7 286.8,364.7 C287.7,364.7 288.5,367.2 289.5,368.9 C290.5,370.6 291.3,372.9 292.6,374.0 C293.9,375.1 295.0,374.7 296.7,375.1 C298.4,375.5 300.0,375.7 301.9,376.1 C303.8,376.5 305.2,377.1 307.1,377.1 C309.0,377.1 310.5,377.2 312.2,376.1 C313.9,375.0 314.8,371.5 316.3,370.9 C317.8,370.3 319.0,373.7 320.5,373.0 C322.0,372.3 323.3,369.0 324.6,366.8 C325.9,364.6 326.4,362.5 327.7,360.6 C329.0,358.7 330.3,356.6 331.8,356.1 C333.3,355.7 334.5,356.7 335.9,358.1 C337.3,359.5 338.4,362.3 339.7,364.0 C341.0,365.7 341.7,367.2 343.1,367.4 C344.5,367.6 346.0,365.2 347.6,365.2 C349.2,365.2 350.8,366.0 352.2,367.4 C353.6,368.8 354.5,370.2 355.6,373.1 C356.7,376.0 357.5,379.8 358.5,383.3 C359.5,386.8 360.4,390.2 361.2,392.4 C362.0,394.6 362.3,395.7 363.1,395.3 C363.9,394.9 364.7,391.8 365.8,390.1 C366.9,388.4 368.1,386.6 369.2,385.6 C370.3,384.6 371.6,384.6 372.1,384.4" stroke="#000" stroke-width="1.2" stroke-dasharray="1.3,0.5"/>
</g>
<text x="42.1" y="347.3" text-anchor="end" font-family='"Liberation Sans", sans-serif' font-size="10.7" fill="#111" stroke="#111" stroke-width="0.35">0</text>
<text x="42.1" y="367.8" text-anchor="end" font-family='"Liberation Sans", sans-serif' font-size="10.7" fill="#111" stroke="#111" stroke-width="0.35">-0.05</text>
<text x="42.1" y="388.2" text-anchor="end" font-family='"Liberation Sans", sans-serif' font-size="10.7" fill="#111" stroke="#111" stroke-width="0.35">0.05</text>
<text x="42.1" y="408.3" text-anchor="end" font-family='"Liberation Sans", sans-serif' font-size="10.7" fill="#111" stroke="#111" stroke-width="0.35">0</text>
<text x="42.1" y="428.4" text-anchor="end" font-family='"Liberation Sans", sans-serif' font-size="10.7" fill="#111" stroke="#111" stroke-width="0.35">-0.05</text>
<text x="44.7" y="437.0" text-anchor="middle" font-family='"Liberation Sans", sans-serif' font-size="10.5" fill="#111" stroke="#111" stroke-width="0.35">0</text>
<text x="77.6" y="437.0" text-anchor="middle" font-family='"Liberation Sans", sans-serif' font-size="10.5" fill="#111" stroke="#111" stroke-width="0.35">100</text>
<text x="110.4" y="437.0" text-anchor="middle" font-family='"Liberation Sans", sans-serif' font-size="10.5" fill="#111" stroke="#111" stroke-width="0.35">200</text>
<text x="143.2" y="437.0" text-anchor="middle" font-family='"Liberation Sans", sans-serif' font-size="10.5" fill="#111" stroke="#111" stroke-width="0.35">300</text>
<text x="176.1" y="437.0" text-anchor="middle" font-family='"Liberation Sans", sans-serif' font-size="10.5" fill="#111" stroke="#111" stroke-width="0.35">400</text>
<text x="208.9" y="437.0" text-anchor="middle" font-family='"Liberation Sans", sans-serif' font-size="10.5" fill="#111" stroke="#111" stroke-width="0.35">500</text>
<text x="241.8" y="437.0" text-anchor="middle" font-family='"Liberation Sans", sans-serif' font-size="10.5" fill="#111" stroke="#111" stroke-width="0.35">600</text>
<text x="274.6" y="437.0" text-anchor="middle" font-family='"Liberation Sans", sans-serif' font-size="10.5" fill="#111" stroke="#111" stroke-width="0.35">700</text>
<text x="307.5" y="437.0" text-anchor="middle" font-family='"Liberation Sans", sans-serif' font-size="10.5" fill="#111" stroke="#111" stroke-width="0.35">800</text>
<text x="340.3" y="437.0" text-anchor="middle" font-family='"Liberation Sans", sans-serif' font-size="10.5" fill="#111" stroke="#111" stroke-width="0.35">900</text>
<text x="373.8" y="437.0" text-anchor="middle" font-family='"Liberation Sans", sans-serif' font-size="10.5" fill="#111" stroke="#111" stroke-width="0.35">1000</text>
<text transform="translate(10.3,382.3) rotate(-90)" text-anchor="middle" font-family='"Liberation Sans", sans-serif' font-size="12.8" fill="#111" stroke="#111" stroke-width="0.4">Translation x (m)</text>
<path d="M44.7,456.5H373.2 M44.7,476.5H373.2 M44.7,496.5H373.2 M44.7,516.2H373.2 M77.6,456.5V536.6 M110.4,456.5V536.6 M143.2,456.5V536.6 M176.1,456.5V536.6 M208.9,456.5V536.6 M241.8,456.5V536.6 M274.6,456.5V536.6 M307.5,456.5V536.6 M340.3,456.5V536.6 M373.2,456.5V536.6" stroke="#dedede" stroke-width="0.8" stroke-dasharray="1,1" fill="none"/>
<path d="M45.0,456.5V536.6H373.2" stroke="#b4b4b4" stroke-width="1.5" fill="none"/>
<path d="M44.7,456.5h3 M44.7,476.5h3 M44.7,496.5h3 M44.7,516.2h3 M44.7,536.6h3 M77.6,536.6v-3 M110.4,536.6v-3 M143.2,536.6v-3 M176.1,536.6v-3 M208.9,536.6v-3 M241.8,536.6v-3 M274.6,536.6v-3 M307.5,536.6v-3 M340.3,536.6v-3 M373.2,536.6v-3" stroke="#8a8a8a" stroke-width="1" fill="none"/>
<g clip-path="url(#c4)" fill="none" stroke-linejoin="round" stroke-linecap="round">
<path d="M44.0,495.7 C46.2,495.7 53.4,495.5 56.4,495.7 C59.4,495.9 58.8,496.5 60.5,497.0 C62.2,497.5 63.9,499.1 65.6,498.4 C67.3,497.7 68.5,494.7 69.8,493.2 C71.1,491.7 71.8,491.0 72.9,490.1 C74.0,489.2 74.9,490.0 76.0,488.1 C77.1,486.2 78.0,482.8 79.1,479.8 C80.2,476.8 81.0,474.0 82.1,471.6 C83.2,469.2 83.9,467.9 85.2,466.4 C86.5,464.9 87.9,463.7 89.4,463.3 C90.9,462.9 92.0,463.9 93.5,464.4 C95.0,464.9 96.3,464.7 97.6,466.0 C98.9,467.3 99.6,469.3 100.7,471.6 C101.8,473.9 102.7,476.2 103.8,478.8 C104.9,481.4 105.8,483.4 106.9,486.0 C108.0,488.6 108.7,491.1 110.0,493.2 C111.3,495.3 112.6,496.8 114.1,497.8 C115.6,498.8 116.9,499.3 118.2,499.0 C119.5,498.7 120.4,497.3 121.3,496.3 C122.2,495.3 122.2,495.1 123.1,493.2 C124.0,491.3 125.1,489.0 126.2,486.0 C127.3,483.0 128.0,479.3 129.3,476.7 C130.6,474.1 132.1,471.6 133.4,471.6 C134.7,471.6 135.4,474.5 136.5,476.7 C137.6,478.9 138.5,481.9 139.6,484.0 C140.7,486.1 141.6,487.7 142.7,488.1 C143.8,488.5 144.5,486.6 145.8,486.0 C147.1,485.4 148.4,484.9 149.9,485.0 C151.4,485.1 152.5,486.6 154.0,486.6 C155.5,486.6 156.6,485.5 158.1,485.0 C159.6,484.5 160.8,484.4 162.3,484.0 C163.8,483.6 164.9,484.6 166.4,482.9 C167.9,481.2 169.0,478.0 170.5,474.7 C172.0,471.4 173.3,467.0 174.6,464.4 C175.9,461.8 176.4,460.8 177.7,460.2 C179.0,459.6 180.6,461.3 181.9,461.3 C183.2,461.3 183.8,460.6 184.9,460.2 C186.0,459.8 186.9,458.3 188.0,459.2 C189.1,460.1 190.0,463.2 191.1,465.4 C192.2,467.6 193.1,469.6 194.2,471.6 C195.3,473.6 196.4,475.0 197.3,476.7 C198.2,478.4 198.4,478.5 199.1,480.9 C199.8,483.3 200.3,486.8 201.2,490.1 C202.1,493.4 203.1,497.5 204.2,499.4 C205.3,501.3 206.2,499.9 207.3,500.5 C208.4,501.1 209.3,503.1 210.4,502.5 C211.5,501.9 212.4,499.8 213.5,497.4 C214.6,495.0 215.5,492.1 216.6,489.1 C217.7,486.1 218.8,482.8 219.7,480.9 C220.6,479.0 220.9,478.2 221.8,478.8 C222.7,479.4 223.8,482.1 224.9,484.0 C226.0,485.9 226.9,486.7 228.0,489.1 C229.1,491.5 229.9,493.9 231.1,497.4 C232.3,500.9 233.7,507.8 234.8,508.7 C235.9,509.6 236.2,504.0 237.2,502.5 C238.2,501.0 239.0,500.9 240.3,500.5 C241.6,500.1 243.0,501.4 244.5,500.5 C246.0,499.6 247.1,497.5 248.6,495.3 C250.1,493.1 251.2,490.7 252.7,488.1 C254.2,485.5 255.3,483.0 256.8,480.9 C258.3,478.8 259.7,476.1 261.0,476.7 C262.3,477.3 262.9,482.1 264.0,484.0 C265.1,485.9 266.0,486.2 267.1,487.1 C268.2,488.0 269.3,487.5 270.2,489.1 C271.1,490.7 271.4,493.6 272.0,496.0 C272.6,498.4 272.9,503.7 273.3,502.5 C273.7,501.3 273.6,493.7 274.1,489.1 C274.6,484.5 275.2,480.4 276.1,476.7 C277.0,473.0 278.1,471.3 279.2,468.5 C280.3,465.7 281.2,463.2 282.3,461.3 C283.4,459.4 284.3,458.6 285.4,458.2 C286.5,457.8 287.4,458.5 288.5,459.2 C289.6,459.9 290.3,461.6 291.6,462.3 C292.9,463.0 294.4,462.7 295.7,463.3 C297.0,463.9 297.5,463.9 298.8,465.4 C300.1,466.9 301.6,469.0 302.9,471.6 C304.2,474.2 304.9,477.0 306.0,479.8 C307.1,482.6 308.0,484.3 309.1,487.1 C310.2,489.9 311.4,493.3 312.2,495.3 C313.0,497.3 312.6,498.2 313.5,498.4 C314.4,498.6 315.9,497.2 317.3,496.3 C318.7,495.4 319.9,494.7 321.4,493.2 C322.9,491.7 324.0,489.8 325.5,488.1 C327.0,486.4 328.1,485.5 329.6,484.0 C331.1,482.5 332.5,481.3 333.8,479.8 C335.1,478.3 335.8,477.2 336.9,475.7 C338.0,474.2 338.7,473.3 340.0,471.6 C341.3,469.9 342.6,466.6 344.1,466.0 C345.6,465.4 346.9,467.7 348.2,468.5 C349.5,469.3 350.2,469.9 351.3,470.6 C352.4,471.3 353.3,470.7 354.4,472.6 C355.5,474.5 356.4,477.8 357.5,480.9 C358.6,484.0 359.5,487.0 360.6,490.1 C361.7,493.2 362.6,496.9 363.7,498.4 C364.8,499.9 365.4,498.7 366.8,498.4 C368.2,498.1 370.7,497.3 371.5,497.0" stroke="#0a0aff" stroke-width="1.55" stroke-dasharray="4,0.9,1,0.9"/>
<path d="M44.0,495.7 C46.0,495.6 52.5,495.9 55.3,495.3 C58.1,494.7 58.0,493.7 59.5,492.2 C61.0,490.7 62.3,488.8 63.6,487.1 C64.9,485.4 65.8,483.8 66.7,482.9 C67.6,482.0 67.8,481.5 68.7,481.9 C69.6,482.3 70.8,485.2 71.8,485.0 C72.8,484.8 73.2,482.5 74.0,481.0 C74.8,479.5 75.3,477.2 76.0,476.7 C76.7,476.2 76.9,476.9 78.0,478.0 C79.1,479.1 80.8,481.1 82.1,482.9 C83.4,484.7 84.1,486.6 85.2,488.1 C86.3,489.6 87.0,490.8 88.3,491.2 C89.6,491.6 91.0,490.1 92.5,490.1 C94.0,490.1 95.3,490.8 96.6,491.2 C97.9,491.6 98.6,492.4 99.7,492.5 C100.8,492.6 101.5,492.1 102.8,491.5 C104.1,490.9 105.4,489.5 106.9,489.1 C108.4,488.7 109.5,489.1 111.0,489.1 C112.5,489.1 113.6,489.3 115.1,489.1 C116.6,488.9 118.1,488.1 119.3,488.1 C120.5,488.1 121.1,488.4 122.0,489.0 C122.9,489.6 123.2,489.5 124.1,491.2 C125.0,492.9 126.1,495.4 127.2,498.4 C128.3,501.4 129.2,504.9 130.3,507.7 C131.4,510.5 132.3,512.2 133.4,513.9 C134.5,515.6 135.4,517.0 136.5,517.0 C137.6,517.0 138.5,514.9 139.6,513.8 C140.7,512.7 141.6,511.7 142.7,510.8 C143.8,509.9 144.7,510.4 145.8,508.7 C146.9,507.0 147.6,503.0 148.9,501.5 C150.2,500.0 151.5,501.1 153.0,500.5 C154.5,499.9 155.6,499.1 157.1,498.4 C158.6,497.7 159.7,497.5 161.2,496.8 C162.7,496.1 163.9,496.6 165.4,494.3 C166.9,492.0 168.2,487.1 169.5,484.0 C170.8,480.9 171.7,479.1 172.6,476.8 C173.5,474.5 173.9,471.0 174.6,471.0 C175.3,471.0 175.8,474.4 176.7,476.7 C177.6,479.0 178.9,481.4 179.8,484.0 C180.7,486.6 180.0,489.7 181.5,491.0 C183.0,492.3 186.5,492.8 188.0,491.2 C189.5,489.6 189.3,484.9 190.1,481.9 C190.9,478.9 191.1,476.5 192.2,474.6 C193.3,472.7 195.1,472.0 196.3,471.6 C197.5,471.2 198.0,471.5 199.1,472.6 C200.2,473.7 201.1,475.9 202.2,477.8 C203.3,479.7 204.2,482.2 205.3,482.9 C206.4,483.6 207.3,481.9 208.4,481.9 C209.5,481.9 210.4,483.5 211.5,482.9 C212.6,482.3 213.5,481.4 214.6,478.8 C215.7,476.2 216.7,471.5 217.6,468.5 C218.5,465.5 218.8,461.9 219.7,462.3 C220.6,462.7 221.7,468.6 222.8,470.6 C223.9,472.6 224.8,471.2 225.9,473.6 C227.0,476.0 227.9,480.1 229.0,484.0 C230.1,487.9 231.0,491.4 232.1,495.3 C233.2,499.2 234.1,504.3 235.2,505.6 C236.3,506.9 237.2,503.1 238.3,502.5 C239.4,501.9 240.1,502.1 241.4,502.5 C242.7,502.9 244.2,504.2 245.5,504.6 C246.8,505.0 247.5,505.3 248.6,504.6 C249.7,503.9 250.4,501.6 251.7,500.5 C253.0,499.4 254.5,498.2 255.8,498.4 C257.1,498.6 257.8,499.8 258.9,501.5 C260.0,503.2 260.7,505.8 262.0,507.7 C263.3,509.6 264.8,509.4 266.1,511.8 C267.4,514.2 268.2,518.2 269.2,521.0 C270.2,523.8 270.8,526.9 271.9,527.3 C273.0,527.7 274.0,525.5 275.1,523.1 C276.2,520.7 276.9,518.2 278.2,513.9 C279.5,509.6 281.0,502.9 282.3,499.0 C283.6,495.1 284.3,494.7 285.4,492.0 C286.5,489.3 287.5,486.5 288.5,484.0 C289.5,481.5 290.3,479.5 291.0,478.0 C291.7,476.5 291.8,475.4 292.6,475.7 C293.4,476.0 294.6,478.2 295.7,479.9 C296.8,481.6 297.5,483.0 298.8,485.0 C300.1,487.0 301.4,488.8 302.9,491.2 C304.4,493.6 305.6,495.7 307.1,498.4 C308.6,501.1 310.2,504.8 311.1,506.0 C312.0,507.2 311.8,506.6 312.2,505.0 C312.6,503.4 312.5,499.6 313.2,497.3 C313.9,495.0 315.2,493.9 316.3,492.0 C317.4,490.1 318.3,487.6 319.4,487.0 C320.5,486.4 321.4,488.6 322.5,488.6 C323.6,488.6 324.5,487.2 325.6,487.1 C326.7,487.0 327.4,487.9 328.7,488.1 C330.0,488.3 331.6,489.2 332.7,488.1 C333.8,487.0 333.5,483.8 334.8,481.9 C336.1,480.0 338.3,476.9 340.0,477.8 C341.7,478.7 342.6,483.0 344.1,487.1 C345.6,491.2 346.9,496.2 348.2,500.5 C349.5,504.8 350.2,509.7 351.3,510.8 C352.4,511.9 353.3,509.0 354.4,506.6 C355.5,504.2 356.4,498.8 357.5,497.4 C358.6,496.0 359.7,498.4 360.6,499.0 C361.5,499.6 361.5,501.2 362.6,500.5 C363.7,499.8 365.2,497.0 366.8,495.3 C368.4,493.6 370.7,491.9 371.5,491.2" stroke="#ff2020" stroke-width="1.1"/>
<path d="M44.5,496.3 C46.5,496.2 53.0,496.5 55.8,495.9 C58.6,495.3 58.5,494.3 60.0,492.8 C61.5,491.3 62.8,489.4 64.1,487.7 C65.4,486.0 66.3,484.4 67.2,483.5 C68.1,482.6 68.3,482.1 69.2,482.5 C70.1,482.9 71.2,485.4 72.3,485.6 C73.4,485.8 74.5,484.8 75.4,483.5 C76.3,482.2 76.7,479.1 77.5,478.4 C78.3,477.7 78.7,478.5 79.6,479.4 C80.5,480.3 81.5,481.8 82.6,483.5 C83.7,485.2 84.6,487.2 85.7,488.7 C86.8,490.2 87.5,491.4 88.8,491.8 C90.1,492.2 91.5,490.7 93.0,490.7 C94.5,490.7 95.8,491.2 97.1,491.8 C98.4,492.4 99.1,493.4 100.2,493.8 C101.3,494.2 102.0,494.5 103.3,493.8 C104.6,493.1 105.9,490.4 107.4,489.7 C108.9,489.0 110.0,489.7 111.5,489.7 C113.0,489.7 114.1,489.9 115.6,489.7 C117.1,489.5 118.6,488.7 119.8,488.7 C121.0,488.7 121.6,489.0 122.5,489.6 C123.4,490.2 123.7,490.1 124.6,491.8 C125.5,493.5 126.6,496.0 127.7,499.0 C128.8,502.0 129.7,505.5 130.8,508.3 C131.9,511.1 132.8,512.8 133.9,514.5 C135.0,516.2 135.9,517.8 137.0,517.6 C138.1,517.4 139.0,515.1 140.1,513.4 C141.2,511.7 142.1,509.0 143.2,508.3 C144.3,507.6 145.2,510.4 146.3,509.3 C147.4,508.2 148.1,503.6 149.4,502.1 C150.7,500.6 152.0,501.7 153.5,501.1 C155.0,500.5 156.1,499.5 157.6,499.0 C159.1,498.5 160.2,499.0 161.7,498.4 C163.2,497.8 164.4,498.0 165.9,495.9 C167.4,493.8 168.7,489.6 170.0,486.6 C171.3,483.6 172.2,481.8 173.1,479.4 C174.0,477.0 174.4,473.6 175.1,473.2 C175.8,472.8 176.3,475.4 177.2,477.3 C178.1,479.2 179.2,482.2 180.3,483.5 C181.4,484.8 182.3,484.2 183.4,484.6 C184.5,485.0 185.4,486.5 186.5,485.6 C187.6,484.7 188.5,481.5 189.6,479.4 C190.7,477.3 191.4,475.5 192.7,474.2 C194.0,472.9 195.6,472.4 196.8,472.2 C198.0,472.0 198.5,472.1 199.6,473.2 C200.7,474.3 201.6,476.5 202.7,478.4 C203.8,480.3 204.7,482.8 205.8,483.5 C206.9,484.2 207.8,482.5 208.9,482.5 C210.0,482.5 210.9,483.9 212.0,483.5 C213.1,483.1 214.0,482.8 215.1,480.4 C216.2,478.0 217.2,473.1 218.1,470.1 C219.0,467.1 219.3,463.7 220.2,463.9 C221.1,464.1 222.2,469.3 223.3,471.2 C224.4,473.1 225.3,471.8 226.4,474.2 C227.5,476.6 228.4,480.7 229.5,484.6 C230.6,488.5 231.5,492.0 232.6,495.9 C233.7,499.8 234.6,504.9 235.7,506.2 C236.8,507.5 237.7,503.7 238.8,503.1 C239.9,502.5 240.6,502.7 241.9,503.1 C243.2,503.5 244.7,504.8 246.0,505.2 C247.3,505.6 248.0,505.9 249.1,505.2 C250.2,504.5 250.9,502.2 252.2,501.1 C253.5,500.0 255.0,498.8 256.3,499.0 C257.6,499.2 258.3,500.4 259.4,502.1 C260.5,503.8 261.2,506.4 262.5,508.3 C263.8,510.2 265.3,510.2 266.6,512.4 C267.9,514.6 268.7,518.0 269.7,520.6 C270.7,523.2 271.3,526.4 272.4,526.8 C273.5,527.2 274.5,524.9 275.6,522.7 C276.7,520.5 277.6,517.6 278.7,514.5 C279.8,511.4 280.7,508.0 281.8,505.2 C282.9,502.4 283.8,501.1 284.9,499.0 C286.0,496.9 286.9,496.4 288.0,493.8 C289.1,491.2 290.2,487.0 291.1,484.6 C292.0,482.2 292.2,480.8 293.1,480.4 C294.0,480.0 295.1,481.4 296.2,482.5 C297.3,483.6 298.0,484.9 299.3,486.6 C300.6,488.3 301.9,489.7 303.4,491.8 C304.9,493.9 306.3,496.0 307.6,498.0 C308.9,500.0 309.7,502.0 310.6,503.1 C311.5,504.2 312.1,505.2 312.7,504.1 C313.3,503.0 313.0,499.2 313.7,496.9 C314.4,494.7 315.7,493.5 316.8,491.6 C317.9,489.7 318.8,487.0 319.9,486.6 C321.0,486.2 321.9,489.0 323.0,489.2 C324.1,489.4 325.0,487.8 326.1,487.7 C327.2,487.6 328.1,488.0 329.2,488.7 C330.3,489.4 331.2,492.5 332.3,491.8 C333.4,491.1 334.3,486.7 335.4,484.6 C336.5,482.5 337.4,481.5 338.5,480.4 C339.6,479.3 340.4,477.6 341.3,478.4 C342.2,479.2 342.6,482.0 343.6,484.6 C344.6,487.2 345.5,489.7 346.6,492.8 C347.7,495.9 348.8,499.6 349.7,502.1 C350.6,504.6 350.9,506.4 351.8,506.6 C352.7,506.8 353.8,504.8 354.9,503.1 C356.0,501.4 356.9,497.6 358.0,496.9 C359.1,496.2 360.0,498.2 361.1,499.0 C362.2,499.8 363.3,501.7 364.2,501.1 C365.1,500.5 365.3,497.2 366.0,495.6 C366.7,494.0 366.9,492.8 368.0,492.1 C369.1,491.4 371.3,491.9 372.0,491.8" stroke="#00e0e0" stroke-width="1.3" stroke-dasharray="3,1"/>
<path d="M44.0,495.7 C46.0,495.6 52.5,495.9 55.3,495.3 C58.1,494.7 58.0,493.7 59.5,492.2 C61.0,490.7 62.3,488.8 63.6,487.1 C64.9,485.4 65.8,483.8 66.7,482.9 C67.6,482.0 67.8,481.5 68.7,481.9 C69.6,482.3 70.7,484.8 71.8,485.0 C72.9,485.2 74.0,484.2 74.9,482.9 C75.8,481.6 76.2,478.5 77.0,477.8 C77.8,477.1 78.2,477.9 79.1,478.8 C80.0,479.7 81.0,481.2 82.1,482.9 C83.2,484.6 84.1,486.6 85.2,488.1 C86.3,489.6 87.0,490.8 88.3,491.2 C89.6,491.6 91.0,490.1 92.5,490.1 C94.0,490.1 95.3,490.6 96.6,491.2 C97.9,491.8 98.6,492.8 99.7,493.2 C100.8,493.6 101.5,493.9 102.8,493.2 C104.1,492.5 105.4,489.8 106.9,489.1 C108.4,488.4 109.5,489.1 111.0,489.1 C112.5,489.1 113.6,489.3 115.1,489.1 C116.6,488.9 118.1,488.1 119.3,488.1 C120.5,488.1 121.1,488.4 122.0,489.0 C122.9,489.6 123.2,489.5 124.1,491.2 C125.0,492.9 126.1,495.4 127.2,498.4 C128.3,501.4 129.2,504.9 130.3,507.7 C131.4,510.5 132.3,512.2 133.4,513.9 C134.5,515.6 135.4,517.2 136.5,517.0 C137.6,516.8 138.5,514.5 139.6,512.8 C140.7,511.1 141.6,508.4 142.7,507.7 C143.8,507.0 144.7,509.8 145.8,508.7 C146.9,507.6 147.6,503.0 148.9,501.5 C150.2,500.0 151.5,501.1 153.0,500.5 C154.5,499.9 155.6,498.9 157.1,498.4 C158.6,497.9 159.7,498.4 161.2,497.8 C162.7,497.2 163.9,497.4 165.4,495.3 C166.9,493.2 168.2,489.0 169.5,486.0 C170.8,483.0 171.7,481.2 172.6,478.8 C173.5,476.4 173.9,473.0 174.6,472.6 C175.3,472.2 175.8,474.8 176.7,476.7 C177.6,478.6 178.7,481.6 179.8,482.9 C180.9,484.2 181.8,483.6 182.9,484.0 C184.0,484.4 184.9,485.9 186.0,485.0 C187.1,484.1 188.0,480.9 189.1,478.8 C190.2,476.7 190.9,474.9 192.2,473.6 C193.5,472.3 195.1,471.8 196.3,471.6 C197.5,471.4 198.0,471.5 199.1,472.6 C200.2,473.7 201.1,475.9 202.2,477.8 C203.3,479.7 204.2,482.2 205.3,482.9 C206.4,483.6 207.3,481.9 208.4,481.9 C209.5,481.9 210.4,483.3 211.5,482.9 C212.6,482.5 213.5,482.2 214.6,479.8 C215.7,477.4 216.7,472.5 217.6,469.5 C218.5,466.5 218.8,463.1 219.7,463.3 C220.6,463.5 221.7,468.7 222.8,470.6 C223.9,472.5 224.8,471.2 225.9,473.6 C227.0,476.0 227.9,480.1 229.0,484.0 C230.1,487.9 231.0,491.4 232.1,495.3 C233.2,499.2 234.1,504.3 235.2,505.6 C236.3,506.9 237.2,503.1 238.3,502.5 C239.4,501.9 240.1,502.1 241.4,502.5 C242.7,502.9 244.2,504.2 245.5,504.6 C246.8,505.0 247.5,505.3 248.6,504.6 C249.7,503.9 250.4,501.6 251.7,500.5 C253.0,499.4 254.5,498.2 255.8,498.4 C257.1,498.6 257.8,499.8 258.9,501.5 C260.0,503.2 260.7,505.8 262.0,507.7 C263.3,509.6 264.8,509.6 266.1,511.8 C267.4,514.0 268.2,517.4 269.2,520.0 C270.2,522.6 270.8,525.8 271.9,526.2 C273.0,526.6 274.0,524.3 275.1,522.1 C276.2,519.9 277.1,517.0 278.2,513.9 C279.3,510.8 280.2,507.4 281.3,504.6 C282.4,501.8 283.3,500.5 284.4,498.4 C285.5,496.3 286.4,495.8 287.5,493.2 C288.6,490.6 289.7,486.4 290.6,484.0 C291.5,481.6 291.7,480.2 292.6,479.8 C293.5,479.4 294.6,480.8 295.7,481.9 C296.8,483.0 297.5,484.3 298.8,486.0 C300.1,487.7 301.4,489.1 302.9,491.2 C304.4,493.3 305.8,495.4 307.1,497.4 C308.4,499.4 309.2,501.4 310.1,502.5 C311.0,503.6 311.6,504.6 312.2,503.5 C312.8,502.4 312.5,498.6 313.2,496.3 C313.9,494.1 315.2,492.9 316.3,491.0 C317.4,489.1 318.3,486.4 319.4,486.0 C320.5,485.6 321.4,488.4 322.5,488.6 C323.6,488.8 324.5,487.2 325.6,487.1 C326.7,487.0 327.6,487.4 328.7,488.1 C329.8,488.8 330.7,491.9 331.8,491.2 C332.9,490.5 333.8,486.1 334.9,484.0 C336.0,481.9 336.9,480.9 338.0,479.8 C339.1,478.7 339.9,477.0 340.8,477.8 C341.7,478.6 342.1,481.4 343.1,484.0 C344.1,486.6 345.0,489.1 346.1,492.2 C347.2,495.3 348.3,499.0 349.2,501.5 C350.1,504.0 350.4,505.8 351.3,506.0 C352.2,506.2 353.3,504.2 354.4,502.5 C355.5,500.8 356.4,497.0 357.5,496.3 C358.6,495.6 359.5,497.6 360.6,498.4 C361.7,499.2 362.8,501.1 363.7,500.5 C364.6,499.9 364.8,496.6 365.5,495.0 C366.2,493.4 366.4,492.2 367.5,491.5 C368.6,490.8 370.8,491.3 371.5,491.2" stroke="#000" stroke-width="1.2" stroke-dasharray="1.3,0.5"/>
</g>
<text x="42.1" y="461.1" text-anchor="end" font-family='"Liberation Sans", sans-serif' font-size="10.7" fill="#111" stroke="#111" stroke-width="0.35">0</text>
<text x="42.1" y="481.1" text-anchor="end" font-family='"Liberation Sans", sans-serif' font-size="10.7" fill="#111" stroke="#111" stroke-width="0.35">-0.05</text>
<text x="42.1" y="501.1" text-anchor="end" font-family='"Liberation Sans", sans-serif' font-size="10.7" fill="#111" stroke="#111" stroke-width="0.35">0.05</text>
<text x="42.1" y="520.8" text-anchor="end" font-family='"Liberation Sans", sans-serif' font-size="10.7" fill="#111" stroke="#111" stroke-width="0.35">0</text>
<text x="42.1" y="541.2" text-anchor="end" font-family='"Liberation Sans", sans-serif' font-size="10.7" fill="#111" stroke="#111" stroke-width="0.35">-0.05</text>
<text x="44.7" y="548.6" text-anchor="middle" font-family='"Liberation Sans", sans-serif' font-size="10.5" fill="#111" stroke="#111" stroke-width="0.35">0</text>
<text x="77.6" y="548.6" text-anchor="middle" font-family='"Liberation Sans", sans-serif' font-size="10.5" fill="#111" stroke="#111" stroke-width="0.35">100</text>
<text x="110.4" y="548.6" text-anchor="middle" font-family='"Liberation Sans", sans-serif' font-size="10.5" fill="#111" stroke="#111" stroke-width="0.35">200</text>
<text x="143.2" y="548.6" text-anchor="middle" font-family='"Liberation Sans", sans-serif' font-size="10.5" fill="#111" stroke="#111" stroke-width="0.35">300</text>
<text x="176.1" y="548.6" text-anchor="middle" font-family='"Liberation Sans", sans-serif' font-size="10.5" fill="#111" stroke="#111" stroke-width="0.35">400</text>
<text x="208.9" y="548.6" text-anchor="middle" font-family='"Liberation Sans", sans-serif' font-size="10.5" fill="#111" stroke="#111" stroke-width="0.35">500</text>
<text x="241.8" y="548.6" text-anchor="middle" font-family='"Liberation Sans", sans-serif' font-size="10.5" fill="#111" stroke="#111" stroke-width="0.35">600</text>
<text x="274.6" y="548.6" text-anchor="middle" font-family='"Liberation Sans", sans-serif' font-size="10.5" fill="#111" stroke="#111" stroke-width="0.35">700</text>
<text x="307.5" y="548.6" text-anchor="middle" font-family='"Liberation Sans", sans-serif' font-size="10.5" fill="#111" stroke="#111" stroke-width="0.35">800</text>
<text x="340.3" y="548.6" text-anchor="middle" font-family='"Liberation Sans", sans-serif' font-size="10.5" fill="#111" stroke="#111" stroke-width="0.35">900</text>
<text x="374.7" y="549.0" text-anchor="middle" font-family='"Liberation Sans", sans-serif' font-size="10.9" fill="#111" stroke="#111" stroke-width="0.35">1000</text>
<text transform="translate(10.3,496.7) rotate(-90)" text-anchor="middle" font-family='"Liberation Sans", sans-serif' font-size="12.8" fill="#111" stroke="#111" stroke-width="0.4">Translation y (m)</text>
<path d="M44.7,568.0H373.2 M44.7,595.2H373.2 M44.7,621.9H373.2 M77.6,568.0V648.7 M110.4,568.0V648.7 M143.2,568.0V648.7 M176.1,568.0V648.7 M208.9,568.0V648.7 M241.8,568.0V648.7 M274.6,568.0V648.7 M307.5,568.0V648.7 M340.3,568.0V648.7 M373.2,568.0V648.7" stroke="#dedede" stroke-width="0.8" stroke-dasharray="1,1" fill="none"/>
<path d="M45.0,568.0V648.7H373.2" stroke="#b4b4b4" stroke-width="1.5" fill="none"/>
<path d="M44.7,568.0h3 M44.7,595.2h3 M44.7,621.9h3 M44.7,648.7h3 M77.6,648.7v-3 M110.4,648.7v-3 M143.2,648.7v-3 M176.1,648.7v-3 M208.9,648.7v-3 M241.8,648.7v-3 M274.6,648.7v-3 M307.5,648.7v-3 M340.3,648.7v-3 M373.2,648.7v-3" stroke="#8a8a8a" stroke-width="1" fill="none"/>
<g clip-path="url(#c5)" fill="none" stroke-linejoin="round" stroke-linecap="round">
<path d="M44.0,621.7 C46.2,621.6 53.4,621.6 56.4,621.1 C59.4,620.6 59.0,619.7 60.5,619.0 C62.0,618.3 63.5,617.5 64.6,617.0 C65.7,616.5 66.0,616.0 66.7,616.5 C67.4,617.0 67.8,618.3 68.7,619.6 C69.6,620.9 70.9,622.9 71.8,623.8 C72.7,624.7 73.0,625.2 73.9,624.8 C74.8,624.4 75.9,622.4 77.0,621.7 C78.1,621.0 78.8,620.7 80.1,620.7 C81.4,620.7 82.9,621.1 84.2,621.7 C85.5,622.3 86.2,623.9 87.3,623.8 C88.4,623.7 89.3,621.7 90.4,621.1 C91.5,620.5 92.4,621.2 93.5,620.7 C94.6,620.2 95.3,619.1 96.6,618.6 C97.9,618.1 99.4,618.4 100.7,618.2 C102.0,618.0 102.7,617.5 103.8,617.6 C104.9,617.7 105.8,618.4 106.9,619.0 C108.0,619.6 108.7,619.8 110.0,620.7 C111.3,621.6 112.6,622.9 114.1,623.8 C115.6,624.7 117.1,625.2 118.2,625.8 C119.3,626.4 118.9,626.3 120.0,626.9 C121.1,627.5 122.6,627.6 124.1,628.9 C125.6,630.2 126.9,632.8 128.2,634.1 C129.5,635.4 130.4,635.7 131.3,636.1 C132.2,636.5 132.5,635.7 133.4,636.1 C134.3,636.5 135.4,638.6 136.5,638.2 C137.6,637.8 138.3,635.8 139.6,634.1 C140.9,632.4 142.2,630.6 143.7,628.9 C145.2,627.2 146.3,625.9 147.8,624.8 C149.3,623.7 150.5,623.2 152.0,622.7 C153.5,622.2 154.8,622.1 156.1,622.3 C157.4,622.5 158.1,622.8 159.2,623.8 C160.3,624.8 161.1,626.6 162.3,627.9 C163.5,629.2 164.5,631.0 165.8,631.0 C167.1,631.0 168.3,629.4 169.5,627.9 C170.7,626.4 171.7,624.2 172.6,622.7 C173.5,621.2 173.7,619.4 174.6,619.6 C175.5,619.8 176.6,623.3 177.7,623.8 C178.8,624.3 179.7,623.1 180.8,622.3 C181.9,621.5 182.8,620.6 183.9,619.6 C185.0,618.6 185.9,617.8 187.0,616.5 C188.1,615.2 189.0,613.8 190.1,612.4 C191.2,611.0 192.1,609.4 193.2,608.7 C194.3,608.0 195.1,607.6 196.3,608.5 C197.5,609.4 198.7,612.2 200.1,613.5 C201.5,614.8 202.7,614.8 204.2,615.5 C205.7,616.2 206.9,616.5 208.4,617.6 C209.9,618.7 211.2,621.1 212.5,621.7 C213.8,622.3 214.5,621.8 215.6,620.7 C216.7,619.6 217.8,616.7 218.7,615.5 C219.6,614.3 219.8,613.9 220.7,614.1 C221.6,614.3 222.7,616.4 223.8,616.5 C224.9,616.6 226.0,614.9 226.9,614.5 C227.8,614.1 228.1,612.6 229.0,614.1 C229.9,615.6 231.0,620.0 232.1,622.7 C233.2,625.4 234.1,627.0 235.2,628.9 C236.3,630.8 237.0,632.0 238.3,633.0 C239.6,634.0 240.9,634.4 242.4,634.7 C243.9,635.0 245.0,635.2 246.5,634.7 C248.0,634.2 249.1,632.7 250.6,632.0 C252.1,631.3 253.5,630.6 254.8,630.6 C256.1,630.6 256.6,631.0 257.9,632.0 C259.2,633.0 260.5,635.0 262.0,636.1 C263.5,637.2 264.6,637.3 266.1,638.2 C267.6,639.1 268.7,640.1 270.2,641.3 C271.7,642.5 273.2,644.4 274.5,644.8 C275.8,645.2 276.0,645.0 277.2,643.4 C278.4,641.8 279.8,638.3 281.3,636.1 C282.8,633.9 284.1,632.9 285.4,631.0 C286.7,629.1 287.4,627.5 288.5,625.8 C289.6,624.1 290.3,622.6 291.6,621.7 C292.9,620.8 294.2,620.7 295.7,620.7 C297.2,620.7 298.3,621.7 299.8,621.7 C301.3,621.7 302.5,620.5 304.0,620.7 C305.5,620.9 306.8,621.6 308.1,622.7 C309.4,623.8 309.9,625.7 311.2,626.9 C312.5,628.1 314.0,629.5 315.3,629.3 C316.6,629.1 317.3,626.8 318.4,625.8 C319.5,624.8 320.2,623.9 321.5,623.5 C322.8,623.1 324.1,623.6 325.6,623.8 C327.1,624.0 328.2,624.2 329.7,624.8 C331.2,625.4 332.6,627.1 333.9,626.9 C335.2,626.7 335.7,625.0 337.0,623.8 C338.3,622.6 339.8,620.6 341.1,620.5 C342.4,620.4 342.9,622.0 344.2,623.0 C345.5,624.0 347.0,624.9 348.3,625.8 C349.6,626.7 350.2,628.3 351.3,627.9 C352.4,627.5 353.3,625.4 354.4,623.8 C355.5,622.2 356.2,619.6 357.5,619.0 C358.8,618.4 360.1,620.2 361.6,620.3 C363.1,620.4 363.9,619.7 365.7,619.6 C367.5,619.5 370.5,619.6 371.5,619.6" stroke="#0a0aff" stroke-width="1.55" stroke-dasharray="4,0.9,1,0.9"/>
<path d="M44.0,622.3 C46.2,622.3 53.2,622.2 56.4,622.3 C59.5,622.4 59.8,622.3 61.5,622.9 C63.2,623.5 64.3,625.2 65.6,625.4 C66.9,625.6 67.6,624.6 68.7,623.9 C69.8,623.2 70.7,622.5 71.8,621.3 C72.9,620.1 73.8,619.2 74.9,617.1 C76.0,615.0 76.7,612.3 78.0,609.9 C79.3,607.5 80.6,605.3 82.1,603.7 C83.6,602.1 85.0,601.7 86.3,601.1 C87.6,600.5 88.1,600.0 89.4,600.2 C90.7,600.4 92.0,601.5 93.5,602.3 C95.0,603.1 96.1,603.4 97.6,604.8 C99.1,606.2 100.2,607.9 101.7,609.9 C103.2,611.9 104.4,614.1 105.9,616.1 C107.4,618.1 108.5,619.5 110.0,620.9 C111.5,622.3 112.6,623.6 114.1,624.0 C115.6,624.4 116.9,623.9 118.2,623.3 C119.5,622.7 120.5,621.7 121.5,620.6 C122.5,619.5 123.0,618.8 124.0,617.1 C125.0,615.4 125.9,612.9 127.2,611.0 C128.5,609.1 130.0,607.7 131.3,606.8 C132.6,605.9 133.1,605.4 134.4,605.8 C135.7,606.2 137.1,608.0 138.6,608.9 C140.1,609.8 141.0,610.5 142.7,610.9 C144.4,611.3 146.1,610.5 147.8,611.0 C149.5,611.5 150.3,612.5 152.0,613.4 C153.7,614.3 155.2,615.2 157.1,616.1 C159.0,617.0 160.6,618.2 162.3,618.2 C164.0,618.2 164.9,617.4 166.4,616.1 C167.9,614.8 169.2,613.0 170.5,611.0 C171.8,609.0 172.5,607.0 173.6,604.8 C174.7,602.6 175.4,600.1 176.7,598.6 C178.0,597.1 179.5,597.2 180.8,596.5 C182.1,595.8 182.7,595.3 183.9,594.5 C185.1,593.7 186.5,591.6 187.6,592.0 C188.7,592.4 189.1,594.4 190.1,596.5 C191.1,598.6 192.1,601.6 193.2,603.7 C194.3,605.8 195.2,606.4 196.3,607.9 C197.4,609.4 198.0,609.4 199.1,612.0 C200.2,614.6 200.9,619.6 202.2,622.3 C203.5,625.0 204.8,625.9 206.3,627.0 C207.8,628.1 209.1,628.8 210.4,628.5 C211.7,628.2 212.4,627.1 213.5,625.4 C214.6,623.7 215.5,621.6 216.6,619.2 C217.7,616.8 218.7,613.7 219.7,612.0 C220.7,610.3 221.5,610.0 222.4,609.9 C223.3,609.8 223.9,610.6 224.9,611.4 C225.9,612.2 226.9,613.0 228.0,614.1 C229.1,615.2 230.0,616.2 231.1,617.6 C232.2,619.0 233.0,620.8 234.1,621.7 C235.2,622.6 235.9,622.6 237.2,622.7 C238.5,622.8 239.9,622.2 241.4,622.3 C242.9,622.4 244.0,623.5 245.5,623.3 C247.0,623.1 248.1,622.2 249.6,621.3 C251.1,620.4 252.2,619.9 253.7,618.2 C255.2,616.5 256.6,613.6 257.9,612.0 C259.2,610.4 259.9,609.4 261.0,609.3 C262.1,609.2 262.9,610.9 264.0,611.4 C265.1,611.9 266.0,611.9 267.1,612.0 C268.2,612.1 269.1,611.5 270.2,612.0 C271.3,612.5 272.2,614.9 273.0,614.6 C273.8,614.3 273.7,612.6 274.5,610.6 C275.3,608.6 276.0,605.5 277.2,603.7 C278.4,601.9 279.8,601.5 281.3,600.7 C282.8,599.9 283.9,599.0 285.4,599.0 C286.9,599.0 288.0,600.1 289.5,600.7 C291.0,601.3 292.1,601.9 293.6,602.3 C295.1,602.7 296.3,602.1 297.8,602.7 C299.3,603.3 300.4,604.5 301.9,605.8 C303.4,607.1 304.5,608.6 306.0,609.9 C307.5,611.2 308.6,611.8 310.1,613.0 C311.6,614.2 312.8,615.4 314.3,616.7 C315.8,618.0 316.9,619.4 318.4,620.2 C319.9,621.0 321.0,621.2 322.5,621.3 C324.0,621.4 325.3,621.5 326.6,620.9 C327.9,620.3 328.4,619.8 329.7,618.2 C331.0,616.6 332.4,614.2 333.9,612.0 C335.4,609.8 336.5,607.8 338.0,605.8 C339.5,603.8 340.6,601.9 342.1,600.7 C343.6,599.5 344.9,599.2 346.2,599.1 C347.5,599.0 348.3,599.4 349.3,600.1 C350.3,600.8 351.1,602.3 352.0,603.2 C352.9,604.1 353.4,603.7 354.4,605.2 C355.4,606.7 356.4,609.8 357.5,611.4 C358.6,613.0 359.5,613.1 360.6,614.1 C361.7,615.1 362.4,616.6 363.7,617.1 C365.0,617.6 366.4,617.1 367.8,617.1 C369.2,617.1 370.8,617.1 371.5,617.1" stroke="#ff2020" stroke-width="1.1"/>
<path d="M43.7,620.8 C45.9,620.8 53.0,620.7 56.1,620.8 C59.2,620.9 59.5,621.0 61.2,621.4 C62.9,621.8 64.0,622.9 65.3,622.9 C66.6,622.9 67.3,622.0 68.4,621.4 C69.5,620.8 70.4,620.8 71.5,619.8 C72.6,618.8 73.5,617.7 74.6,615.6 C75.7,613.5 76.4,610.8 77.7,608.4 C79.0,606.0 80.3,603.8 81.8,602.2 C83.3,600.6 84.7,600.2 86.0,599.6 C87.3,599.0 87.8,598.5 89.1,598.7 C90.4,598.9 91.7,600.0 93.2,600.8 C94.7,601.6 95.8,601.9 97.3,603.3 C98.8,604.7 99.9,606.4 101.4,608.4 C102.9,610.4 104.1,612.6 105.6,614.6 C107.1,616.6 108.2,618.0 109.7,619.4 C111.2,620.8 112.3,622.1 113.8,622.5 C115.3,622.9 116.6,622.4 117.9,621.8 C119.2,621.2 120.2,620.2 121.2,619.1 C122.2,618.0 122.7,617.3 123.7,615.6 C124.7,613.9 125.6,611.4 126.9,609.5 C128.2,607.6 129.7,606.2 131.0,605.3 C132.3,604.4 132.8,604.1 134.1,604.3 C135.4,604.5 136.8,605.7 138.3,606.4 C139.8,607.1 140.7,607.8 142.4,608.4 C144.1,609.0 145.8,608.9 147.5,609.5 C149.2,610.1 150.0,611.0 151.7,611.9 C153.4,612.8 154.9,613.7 156.8,614.6 C158.7,615.5 160.3,616.7 162.0,616.7 C163.7,616.7 164.6,615.9 166.1,614.6 C167.6,613.3 168.9,611.5 170.2,609.5 C171.5,607.5 172.2,605.5 173.3,603.3 C174.4,601.1 175.1,598.6 176.4,597.1 C177.7,595.6 179.2,595.7 180.5,595.0 C181.8,594.3 182.4,593.8 183.6,593.0 C184.8,592.2 186.2,590.1 187.3,590.5 C188.4,590.9 188.8,592.9 189.8,595.0 C190.8,597.1 191.8,600.1 192.9,602.2 C194.0,604.3 194.9,604.9 196.0,606.4 C197.1,607.9 197.7,607.9 198.8,610.5 C199.9,613.1 200.6,618.1 201.9,620.8 C203.2,623.5 204.5,624.4 206.0,625.5 C207.5,626.6 208.8,627.3 210.1,627.0 C211.4,626.7 212.1,625.6 213.2,623.9 C214.3,622.2 215.2,620.1 216.3,617.7 C217.4,615.3 218.4,612.2 219.4,610.5 C220.4,608.8 221.2,608.5 222.1,608.4 C223.0,608.3 223.6,609.1 224.6,609.9 C225.6,610.7 226.6,611.9 227.7,612.6 C228.8,613.3 229.7,612.7 230.8,613.6 C231.9,614.5 232.7,616.8 233.8,617.7 C234.9,618.6 235.6,618.1 236.9,618.7 C238.2,619.3 239.6,620.2 241.1,620.8 C242.6,621.4 243.7,622.0 245.2,621.8 C246.7,621.6 247.8,620.7 249.3,619.8 C250.8,618.9 251.9,618.4 253.4,616.7 C254.9,615.0 256.3,612.1 257.6,610.5 C258.9,608.9 259.6,607.9 260.7,607.8 C261.8,607.7 262.6,609.4 263.7,609.9 C264.8,610.4 265.7,610.4 266.8,610.5 C267.9,610.6 268.8,610.0 269.9,610.5 C271.0,611.0 271.9,613.4 272.7,613.1 C273.5,612.8 273.4,611.1 274.2,609.1 C275.0,607.1 275.7,604.0 276.9,602.2 C278.1,600.4 279.5,600.0 281.0,599.2 C282.5,598.4 283.6,597.5 285.1,597.5 C286.6,597.5 287.7,598.6 289.2,599.2 C290.7,599.8 291.8,600.4 293.3,600.8 C294.8,601.2 296.0,600.6 297.5,601.2 C299.0,601.8 300.1,603.0 301.6,604.3 C303.1,605.6 304.2,607.1 305.7,608.4 C307.2,609.7 308.3,610.3 309.8,611.5 C311.3,612.7 312.5,613.9 314.0,615.2 C315.5,616.5 316.6,617.9 318.1,618.7 C319.6,619.5 320.7,619.7 322.2,619.8 C323.7,619.9 325.0,620.0 326.3,619.4 C327.6,618.8 328.1,618.3 329.4,616.7 C330.7,615.1 332.1,612.7 333.6,610.5 C335.1,608.3 336.2,606.3 337.7,604.3 C339.2,602.3 340.3,600.7 341.8,599.2 C343.3,597.7 344.6,596.5 345.9,596.1 C347.2,595.7 348.0,596.4 349.0,597.1 C350.0,597.8 350.8,599.3 351.7,600.2 C352.6,601.1 353.1,600.7 354.1,602.2 C355.1,603.7 356.1,606.5 357.2,608.4 C358.3,610.3 359.2,611.3 360.3,612.6 C361.4,613.9 362.1,615.1 363.4,615.6 C364.7,616.1 366.1,615.6 367.5,615.6 C368.9,615.6 370.5,615.6 371.2,615.6" stroke="#00e0e0" stroke-width="1.3" stroke-dasharray="3,1"/>
<path d="M44.0,621.7 C46.2,621.7 53.2,621.6 56.4,621.7 C59.5,621.8 59.8,621.9 61.5,622.3 C63.2,622.7 64.3,623.8 65.6,623.8 C66.9,623.8 67.6,622.9 68.7,622.3 C69.8,621.7 70.7,621.7 71.8,620.7 C72.9,619.7 73.8,618.6 74.9,616.5 C76.0,614.4 76.7,611.7 78.0,609.3 C79.3,606.9 80.6,604.7 82.1,603.1 C83.6,601.5 85.0,601.1 86.3,600.5 C87.6,599.9 88.1,599.4 89.4,599.6 C90.7,599.8 92.0,600.9 93.5,601.7 C95.0,602.5 96.1,602.8 97.6,604.2 C99.1,605.6 100.2,607.3 101.7,609.3 C103.2,611.3 104.4,613.5 105.9,615.5 C107.4,617.5 108.5,618.9 110.0,620.3 C111.5,621.7 112.6,623.0 114.1,623.4 C115.6,623.8 116.9,623.3 118.2,622.7 C119.5,622.1 120.5,621.1 121.5,620.0 C122.5,618.9 123.0,618.2 124.0,616.5 C125.0,614.8 125.9,612.3 127.2,610.4 C128.5,608.5 130.0,607.1 131.3,606.2 C132.6,605.3 133.1,605.0 134.4,605.2 C135.7,605.4 137.1,606.6 138.6,607.3 C140.1,608.0 141.0,608.7 142.7,609.3 C144.4,609.9 146.1,609.8 147.8,610.4 C149.5,611.0 150.3,611.9 152.0,612.8 C153.7,613.7 155.2,614.6 157.1,615.5 C159.0,616.4 160.6,617.6 162.3,617.6 C164.0,617.6 164.9,616.8 166.4,615.5 C167.9,614.2 169.2,612.4 170.5,610.4 C171.8,608.4 172.5,606.4 173.6,604.2 C174.7,602.0 175.4,599.5 176.7,598.0 C178.0,596.5 179.5,596.6 180.8,595.9 C182.1,595.2 182.7,594.7 183.9,593.9 C185.1,593.1 186.5,591.0 187.6,591.4 C188.7,591.8 189.1,593.8 190.1,595.9 C191.1,598.0 192.1,601.0 193.2,603.1 C194.3,605.2 195.2,605.8 196.3,607.3 C197.4,608.8 198.0,608.8 199.1,611.4 C200.2,614.0 200.9,619.0 202.2,621.7 C203.5,624.4 204.8,625.3 206.3,626.4 C207.8,627.5 209.1,628.2 210.4,627.9 C211.7,627.6 212.4,626.5 213.5,624.8 C214.6,623.1 215.5,621.0 216.6,618.6 C217.7,616.2 218.7,613.1 219.7,611.4 C220.7,609.7 221.5,609.4 222.4,609.3 C223.3,609.2 223.9,610.0 224.9,610.8 C225.9,611.6 226.9,612.8 228.0,613.5 C229.1,614.2 230.0,613.6 231.1,614.5 C232.2,615.4 233.0,617.7 234.1,618.6 C235.2,619.5 235.9,619.0 237.2,619.6 C238.5,620.2 239.9,621.1 241.4,621.7 C242.9,622.3 244.0,622.9 245.5,622.7 C247.0,622.5 248.1,621.6 249.6,620.7 C251.1,619.8 252.2,619.3 253.7,617.6 C255.2,615.9 256.6,613.0 257.9,611.4 C259.2,609.8 259.9,608.8 261.0,608.7 C262.1,608.6 262.9,610.3 264.0,610.8 C265.1,611.3 266.0,611.3 267.1,611.4 C268.2,611.5 269.1,610.9 270.2,611.4 C271.3,611.9 272.2,614.3 273.0,614.0 C273.8,613.7 273.7,612.0 274.5,610.0 C275.3,608.0 276.0,604.9 277.2,603.1 C278.4,601.3 279.8,600.9 281.3,600.1 C282.8,599.3 283.9,598.4 285.4,598.4 C286.9,598.4 288.0,599.5 289.5,600.1 C291.0,600.7 292.1,601.3 293.6,601.7 C295.1,602.1 296.3,601.5 297.8,602.1 C299.3,602.7 300.4,603.9 301.9,605.2 C303.4,606.5 304.5,608.0 306.0,609.3 C307.5,610.6 308.6,611.2 310.1,612.4 C311.6,613.6 312.8,614.8 314.3,616.1 C315.8,617.4 316.9,618.8 318.4,619.6 C319.9,620.4 321.0,620.6 322.5,620.7 C324.0,620.8 325.3,620.9 326.6,620.3 C327.9,619.7 328.4,619.2 329.7,617.6 C331.0,616.0 332.4,613.6 333.9,611.4 C335.4,609.2 336.5,607.2 338.0,605.2 C339.5,603.2 340.6,601.6 342.1,600.1 C343.6,598.6 344.9,597.4 346.2,597.0 C347.5,596.6 348.3,597.3 349.3,598.0 C350.3,598.7 351.1,600.2 352.0,601.1 C352.9,602.0 353.4,601.6 354.4,603.1 C355.4,604.6 356.4,607.4 357.5,609.3 C358.6,611.2 359.5,612.2 360.6,613.5 C361.7,614.8 362.4,616.0 363.7,616.5 C365.0,617.0 366.4,616.5 367.8,616.5 C369.2,616.5 370.8,616.5 371.5,616.5" stroke="#000" stroke-width="1.2" stroke-dasharray="1.3,0.5"/>
</g>
<text x="42.1" y="572.6" text-anchor="end" font-family='"Liberation Sans", sans-serif' font-size="10.7" fill="#111" stroke="#111" stroke-width="0.35">0.1</text>
<text x="42.1" y="599.8" text-anchor="end" font-family='"Liberation Sans", sans-serif' font-size="10.7" fill="#111" stroke="#111" stroke-width="0.35">0.05</text>
<text x="42.1" y="626.5" text-anchor="end" font-family='"Liberation Sans", sans-serif' font-size="10.7" fill="#111" stroke="#111" stroke-width="0.35">0</text>
<text x="42.1" y="653.3" text-anchor="end" font-family='"Liberation Sans", sans-serif' font-size="10.7" fill="#111" stroke="#111" stroke-width="0.35">-0.05</text>
<text x="44.7" y="662.2" text-anchor="middle" font-family='"Liberation Sans", sans-serif' font-size="10.5" fill="#111" stroke="#111" stroke-width="0.35">0</text>
<text x="77.6" y="662.2" text-anchor="middle" font-family='"Liberation Sans", sans-serif' font-size="10.5" fill="#111" stroke="#111" stroke-width="0.35">100</text>
<text x="110.4" y="662.2" text-anchor="middle" font-family='"Liberation Sans", sans-serif' font-size="10.5" fill="#111" stroke="#111" stroke-width="0.35">200</text>
<text x="143.2" y="662.2" text-anchor="middle" font-family='"Liberation Sans", sans-serif' font-size="10.5" fill="#111" stroke="#111" stroke-width="0.35">300</text>
<text x="176.1" y="662.2" text-anchor="middle" font-family='"Liberation Sans", sans-serif' font-size="10.5" fill="#111" stroke="#111" stroke-width="0.35">400</text>
<text x="208.9" y="662.2" text-anchor="middle" font-family='"Liberation Sans", sans-serif' font-size="10.5" fill="#111" stroke="#111" stroke-width="0.35">500</text>
<text x="241.8" y="662.2" text-anchor="middle" font-family='"Liberation Sans", sans-serif' font-size="10.5" fill="#111" stroke="#111" stroke-width="0.35">600</text>
<text x="274.6" y="662.2" text-anchor="middle" font-family='"Liberation Sans", sans-serif' font-size="10.5" fill="#111" stroke="#111" stroke-width="0.35">700</text>
<text x="307.5" y="662.2" text-anchor="middle" font-family='"Liberation Sans", sans-serif' font-size="10.5" fill="#111" stroke="#111" stroke-width="0.35">800</text>
<text x="340.3" y="662.2" text-anchor="middle" font-family='"Liberation Sans", sans-serif' font-size="10.5" fill="#111" stroke="#111" stroke-width="0.35">900</text>
<text x="373.8" y="662.2" text-anchor="middle" font-family='"Liberation Sans", sans-serif' font-size="10.5" fill="#111" stroke="#111" stroke-width="0.35">1000</text>
<text transform="translate(10.3,608.0) rotate(-90)" text-anchor="middle" font-family='"Liberation Sans", sans-serif' font-size="12.8" fill="#111" stroke="#111" stroke-width="0.4">Translation z (m)</text>
<text x="208.1" y="302.2" text-anchor="middle" font-family='"Liberation Sans", sans-serif' font-size="13" fill="#111" stroke="#111" stroke-width="0.35">Time(×0.05s)</text>
<text x="209.2" y="678.2" text-anchor="middle" font-family='"Liberation Sans", sans-serif' font-size="13.3" fill="#111" stroke="#111" stroke-width="0.15">Time(×0.05s)</text>
<text transform="translate(12.2,13.3)" font-family='"Liberation Serif", serif' font-weight="bold" font-size="16.5" fill="#111">(a)</text>
<text transform="translate(12.2,324.1)" font-family='"Liberation Serif", serif' font-weight="bold" font-size="16.5" fill="#111">(b)</text>
<rect x="298.3" y="210.6" width="71.30000000000001" height="54.29999999999998" fill="#fff" stroke="#3a3a3a" stroke-width="1"/>
<path d="M302.8,218.2H328.9" fill="none" stroke="#ff1010" stroke-width="1.5"/>
<text x="331.2" y="221.7" font-family='"Liberation Sans", sans-serif' font-size="9.75" fill="#111" stroke="#111" stroke-width="0.45">Camera</text>
<path d="M302.8,231.2H328.9" fill="none" stroke="#4848ff" stroke-width="1.5" stroke-dasharray="5,2,1,2"/>
<text x="331.2" y="234.7" font-family='"Liberation Sans", sans-serif' font-size="9.75" fill="#111" stroke="#111" stroke-width="0.45">Robot</text>
<path d="M302.8,244.4H328.9" fill="none" stroke="#00f0f0" stroke-width="1.4" stroke-dasharray="4,2.5"/>
<text x="331.2" y="247.9" font-family='"Liberation Sans", sans-serif' font-size="9.75" fill="#111" stroke="#111" stroke-width="0.45">Our</text>
<path d="M302.8,257.4H328.9" fill="none" stroke="#333" stroke-width="0.9" stroke-dasharray="0.8,1.6"/>
<text x="331.2" y="260.9" font-family='"Liberation Sans", sans-serif' font-size="9.75" fill="#111" stroke="#111" stroke-width="0.45">Opt</text>
<rect x="296.8" y="525.6" width="69.0" height="53.60000000000002" fill="#fff" stroke="#3a3a3a" stroke-width="1"/>
<path d="M301.4,533.9H326.1" fill="none" stroke="#ff2020" stroke-width="1.3"/>
<text x="328.6" y="537.4" font-family='"Liberation Sans", sans-serif' font-size="8.35" fill="#111" stroke="#111" stroke-width="0.3">Camera</text>
<path d="M301.4,547.1H326.1" fill="none" stroke="#0a0aff" stroke-width="1.3" stroke-dasharray="3,1,1,1"/>
<text x="328.6" y="550.6" font-family='"Liberation Sans", sans-serif' font-size="8.35" fill="#111" stroke="#111" stroke-width="0.3">Robot</text>
<path d="M301.4,559.7H326.1" fill="none" stroke="#00e8e8" stroke-width="1.5" stroke-dasharray="3.5,2.5"/>
<text x="328.6" y="563.2" font-family='"Liberation Sans", sans-serif' font-size="8.35" fill="#111" stroke="#111" stroke-width="0.3">Our</text>
<path d="M301.4,572.3H326.1" fill="none" stroke="#000" stroke-width="1.5" stroke-dasharray="1.2,0.6"/>
<text x="328.6" y="575.8" font-family='"Liberation Sans", sans-serif' font-size="8.35" fill="#111" stroke="#111" stroke-width="0.3">Opt</text>
</svg>
</body></html>
